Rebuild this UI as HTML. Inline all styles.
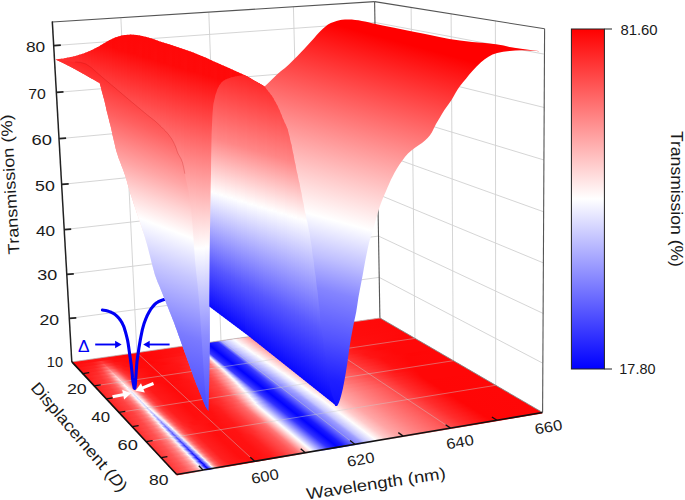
<!DOCTYPE html>
<html><head><meta charset="utf-8"><style>html,body{margin:0;padding:0;background:#fff;}svg{display:block;}text{font-family:"Liberation Sans",sans-serif;}</style></head>
<body><svg width="685" height="500" viewBox="0 0 685 500"><defs><linearGradient id="f1" gradientUnits="userSpaceOnUse" x1="0" y1="0" x2="1" y2="0" gradientTransform="matrix(308.8644 -44.1128 0.7786 0.6275 73.2335 363.3328)"><stop offset="0.0000" stop-color="#ff0b0b"/><stop offset="0.0744" stop-color="#ff1313"/><stop offset="0.0920" stop-color="#ff1414"/><stop offset="0.1551" stop-color="#ff0707"/><stop offset="0.2626" stop-color="#ff0b0b"/><stop offset="0.3482" stop-color="#ff1515"/><stop offset="0.3754" stop-color="#ff3d3d"/><stop offset="0.3889" stop-color="#ff9d9d"/><stop offset="0.3957" stop-color="#ffeded"/><stop offset="0.3991" stop-color="#e6e6ff"/><stop offset="0.4092" stop-color="#3a3aff"/><stop offset="0.4362" stop-color="#0202ff"/><stop offset="0.4698" stop-color="#3232ff"/><stop offset="0.4798" stop-color="#8b8bff"/><stop offset="0.4898" stop-color="#c1c1ff"/><stop offset="0.5232" stop-color="#fdfdff"/><stop offset="0.5498" stop-color="#ffcdcd"/><stop offset="0.5828" stop-color="#ff8b8b"/><stop offset="0.6190" stop-color="#ff5b5b"/><stop offset="0.7007" stop-color="#ff2e2e"/><stop offset="0.8168" stop-color="#ff0d0d"/><stop offset="1.0000" stop-color="#ff0909"/></linearGradient>
<linearGradient id="f2" gradientUnits="userSpaceOnUse" x1="0" y1="0" x2="1" y2="0" gradientTransform="matrix(310.4043 -44.5435 0.7786 0.6275 75.9243 366.2238)"><stop offset="0.0000" stop-color="#ff0e0e"/><stop offset="0.0568" stop-color="#ff1b1b"/><stop offset="0.0850" stop-color="#ff3838"/><stop offset="0.0991" stop-color="#ff2424"/><stop offset="0.1237" stop-color="#ff0f0f"/><stop offset="0.2212" stop-color="#ff0707"/><stop offset="0.3483" stop-color="#ff1515"/><stop offset="0.3755" stop-color="#ff3d3d"/><stop offset="0.3890" stop-color="#ff9d9d"/><stop offset="0.3958" stop-color="#ffeded"/><stop offset="0.3992" stop-color="#e6e6ff"/><stop offset="0.4093" stop-color="#3939ff"/><stop offset="0.4363" stop-color="#0101ff"/><stop offset="0.4699" stop-color="#3131ff"/><stop offset="0.4799" stop-color="#8b8bff"/><stop offset="0.4899" stop-color="#c1c1ff"/><stop offset="0.5233" stop-color="#fdfdff"/><stop offset="0.5498" stop-color="#ffcdcd"/><stop offset="0.5829" stop-color="#ff8b8b"/><stop offset="0.6191" stop-color="#ff5b5b"/><stop offset="0.7008" stop-color="#ff2e2e"/><stop offset="0.8168" stop-color="#ff0d0d"/><stop offset="1.0000" stop-color="#ff0909"/></linearGradient>
<linearGradient id="f3" gradientUnits="userSpaceOnUse" x1="0" y1="0" x2="1" y2="0" gradientTransform="matrix(311.9593 -44.9813 0.7786 0.6275 78.6472 369.1494)"><stop offset="0.0000" stop-color="#ff1212"/><stop offset="0.0533" stop-color="#ff2323"/><stop offset="0.0710" stop-color="#ff3b3b"/><stop offset="0.0851" stop-color="#ff5959"/><stop offset="0.0886" stop-color="#ff4a4a"/><stop offset="0.1167" stop-color="#ff1a1a"/><stop offset="0.1587" stop-color="#ff0a0a"/><stop offset="0.2490" stop-color="#ff0a0a"/><stop offset="0.3484" stop-color="#ff1919"/><stop offset="0.3756" stop-color="#ff4343"/><stop offset="0.3891" stop-color="#ffa2a2"/><stop offset="0.3959" stop-color="#fff1f1"/><stop offset="0.3993" stop-color="#e2e2ff"/><stop offset="0.4094" stop-color="#3a3aff"/><stop offset="0.4364" stop-color="#0101ff"/><stop offset="0.4700" stop-color="#3232ff"/><stop offset="0.4800" stop-color="#8b8bff"/><stop offset="0.4900" stop-color="#c0c0ff"/><stop offset="0.5234" stop-color="#fcfcff"/><stop offset="0.5333" stop-color="#fff0f0"/><stop offset="0.5830" stop-color="#ff8d8d"/><stop offset="0.6192" stop-color="#ff5d5d"/><stop offset="0.7041" stop-color="#ff2e2e"/><stop offset="0.8169" stop-color="#ff0d0d"/><stop offset="1.0000" stop-color="#ff0909"/></linearGradient>
<linearGradient id="f4" gradientUnits="userSpaceOnUse" x1="0" y1="0" x2="1" y2="0" gradientTransform="matrix(313.5297 -45.4262 0.7786 0.6275 81.4027 372.1100)"><stop offset="0.0000" stop-color="#ff1515"/><stop offset="0.0462" stop-color="#ff2727"/><stop offset="0.0639" stop-color="#ff3e3e"/><stop offset="0.0851" stop-color="#ff7979"/><stop offset="0.0886" stop-color="#ff6565"/><stop offset="0.1133" stop-color="#ff2727"/><stop offset="0.1378" stop-color="#ff1111"/><stop offset="0.2214" stop-color="#ff0808"/><stop offset="0.3450" stop-color="#ff2020"/><stop offset="0.3756" stop-color="#ff5050"/><stop offset="0.3892" stop-color="#ffadad"/><stop offset="0.3960" stop-color="#fff9f9"/><stop offset="0.3994" stop-color="#dcdcff"/><stop offset="0.4095" stop-color="#3a3aff"/><stop offset="0.4365" stop-color="#0202ff"/><stop offset="0.4701" stop-color="#3434ff"/><stop offset="0.4801" stop-color="#8989ff"/><stop offset="0.4901" stop-color="#bcbcff"/><stop offset="0.5268" stop-color="#fffefe"/><stop offset="0.5534" stop-color="#ffc8c8"/><stop offset="0.5831" stop-color="#ff8f8f"/><stop offset="0.6193" stop-color="#ff6060"/><stop offset="0.7042" stop-color="#ff3232"/><stop offset="0.8201" stop-color="#ff0e0e"/><stop offset="1.0000" stop-color="#ff0909"/></linearGradient>
<linearGradient id="f5" gradientUnits="userSpaceOnUse" x1="0" y1="0" x2="1" y2="0" gradientTransform="matrix(315.1156 -45.8785 0.7786 0.6275 84.1915 375.1063)"><stop offset="0.0000" stop-color="#ff1818"/><stop offset="0.0427" stop-color="#ff2c2c"/><stop offset="0.0604" stop-color="#ff4545"/><stop offset="0.0745" stop-color="#ff7070"/><stop offset="0.0851" stop-color="#ff9a9a"/><stop offset="0.0887" stop-color="#ff8080"/><stop offset="0.0957" stop-color="#ff6b6b"/><stop offset="0.1098" stop-color="#ff3838"/><stop offset="0.1273" stop-color="#ff1b1b"/><stop offset="0.1728" stop-color="#ff0b0b"/><stop offset="0.2526" stop-color="#ff0c0c"/><stop offset="0.3417" stop-color="#ff2626"/><stop offset="0.3519" stop-color="#ff3131"/><stop offset="0.3757" stop-color="#ff5d5d"/><stop offset="0.3893" stop-color="#ffb8b8"/><stop offset="0.3961" stop-color="#fdfdff"/><stop offset="0.3995" stop-color="#d5d5ff"/><stop offset="0.4096" stop-color="#3a3aff"/><stop offset="0.4366" stop-color="#0202ff"/><stop offset="0.4702" stop-color="#3636ff"/><stop offset="0.4802" stop-color="#8888ff"/><stop offset="0.4902" stop-color="#b9b9ff"/><stop offset="0.5269" stop-color="#fefeff"/><stop offset="0.5534" stop-color="#ffcaca"/><stop offset="0.5832" stop-color="#ff9292"/><stop offset="0.6227" stop-color="#ff6161"/><stop offset="0.7075" stop-color="#ff3434"/><stop offset="0.8202" stop-color="#ff0e0e"/><stop offset="1.0000" stop-color="#ff0909"/></linearGradient>
<linearGradient id="f6" gradientUnits="userSpaceOnUse" x1="0" y1="0" x2="1" y2="0" gradientTransform="matrix(316.7172 -46.3384 0.7786 0.6275 87.0142 378.1391)"><stop offset="0.0000" stop-color="#ff1b1b"/><stop offset="0.0427" stop-color="#ff3434"/><stop offset="0.0604" stop-color="#ff5151"/><stop offset="0.0710" stop-color="#ff7575"/><stop offset="0.0852" stop-color="#ffbbbb"/><stop offset="0.0887" stop-color="#ff9a9a"/><stop offset="0.0957" stop-color="#ff8181"/><stop offset="0.1063" stop-color="#ff4e4e"/><stop offset="0.1168" stop-color="#ff2f2f"/><stop offset="0.1379" stop-color="#ff1717"/><stop offset="0.2042" stop-color="#ff0909"/><stop offset="0.2939" stop-color="#ff1717"/><stop offset="0.3418" stop-color="#ff2d2d"/><stop offset="0.3554" stop-color="#ff4141"/><stop offset="0.3758" stop-color="#ff6a6a"/><stop offset="0.3894" stop-color="#ffc2c2"/><stop offset="0.3928" stop-color="#ffe6e6"/><stop offset="0.3962" stop-color="#f5f5ff"/><stop offset="0.3995" stop-color="#cfcfff"/><stop offset="0.4097" stop-color="#3b3bff"/><stop offset="0.4367" stop-color="#0202ff"/><stop offset="0.4703" stop-color="#3737ff"/><stop offset="0.4803" stop-color="#8686ff"/><stop offset="0.4903" stop-color="#b6b6ff"/><stop offset="0.5270" stop-color="#fcfcff"/><stop offset="0.5370" stop-color="#ffefef"/><stop offset="0.5800" stop-color="#ff9999"/><stop offset="0.6228" stop-color="#ff6565"/><stop offset="0.7109" stop-color="#ff3636"/><stop offset="0.8203" stop-color="#ff0f0f"/><stop offset="1.0000" stop-color="#ff0909"/></linearGradient>
<linearGradient id="f7" gradientUnits="userSpaceOnUse" x1="0" y1="0" x2="1" y2="0" gradientTransform="matrix(318.3349 -46.8059 0.7786 0.6275 89.8713 381.2089)"><stop offset="0.0000" stop-color="#ff1e1e"/><stop offset="0.0392" stop-color="#ff3535"/><stop offset="0.0569" stop-color="#ff5151"/><stop offset="0.0675" stop-color="#ff7272"/><stop offset="0.0852" stop-color="#ffd3d3"/><stop offset="0.0887" stop-color="#ffaeae"/><stop offset="0.0958" stop-color="#ff9191"/><stop offset="0.1063" stop-color="#ff5656"/><stop offset="0.1169" stop-color="#ff3434"/><stop offset="0.1379" stop-color="#ff1919"/><stop offset="0.1973" stop-color="#ff0a0a"/><stop offset="0.2803" stop-color="#ff1515"/><stop offset="0.3385" stop-color="#ff3131"/><stop offset="0.3521" stop-color="#ff4343"/><stop offset="0.3759" stop-color="#ff7676"/><stop offset="0.3895" stop-color="#ffcdcd"/><stop offset="0.3929" stop-color="#ffefef"/><stop offset="0.3963" stop-color="#ededff"/><stop offset="0.3996" stop-color="#c8c8ff"/><stop offset="0.4098" stop-color="#3b3bff"/><stop offset="0.4368" stop-color="#0202ff"/><stop offset="0.4704" stop-color="#3939ff"/><stop offset="0.4804" stop-color="#8484ff"/><stop offset="0.4904" stop-color="#b3b3ff"/><stop offset="0.5304" stop-color="#fffefe"/><stop offset="0.5801" stop-color="#ff9b9b"/><stop offset="0.6229" stop-color="#ff6868"/><stop offset="0.7109" stop-color="#ff3a3a"/><stop offset="0.8203" stop-color="#ff1010"/><stop offset="1.0000" stop-color="#ff0808"/></linearGradient>
<linearGradient id="f8" gradientUnits="userSpaceOnUse" x1="0" y1="0" x2="1" y2="0" gradientTransform="matrix(319.9687 -47.2813 0.7786 0.6275 92.7636 384.3164)"><stop offset="0.0000" stop-color="#ff1f1f"/><stop offset="0.0392" stop-color="#ff3838"/><stop offset="0.0569" stop-color="#ff5555"/><stop offset="0.0675" stop-color="#ff7979"/><stop offset="0.0782" stop-color="#ffb8b8"/><stop offset="0.0852" stop-color="#ffe2e2"/><stop offset="0.0887" stop-color="#ffbbbb"/><stop offset="0.0923" stop-color="#ffafaf"/><stop offset="0.1064" stop-color="#ff5a5a"/><stop offset="0.1169" stop-color="#ff3636"/><stop offset="0.1345" stop-color="#ff1c1c"/><stop offset="0.1834" stop-color="#ff0b0b"/><stop offset="0.2562" stop-color="#ff0f0f"/><stop offset="0.3318" stop-color="#ff3030"/><stop offset="0.3522" stop-color="#ff4c4c"/><stop offset="0.3760" stop-color="#ff8383"/><stop offset="0.3896" stop-color="#ffd8d8"/><stop offset="0.3930" stop-color="#fff8f8"/><stop offset="0.3964" stop-color="#e5e5ff"/><stop offset="0.3997" stop-color="#c2c2ff"/><stop offset="0.4099" stop-color="#3b3bff"/><stop offset="0.4369" stop-color="#0202ff"/><stop offset="0.4637" stop-color="#2d2dff"/><stop offset="0.4705" stop-color="#3b3bff"/><stop offset="0.4805" stop-color="#8383ff"/><stop offset="0.4905" stop-color="#b0b0ff"/><stop offset="0.5305" stop-color="#fefeff"/><stop offset="0.5802" stop-color="#ff9e9e"/><stop offset="0.6230" stop-color="#ff6c6c"/><stop offset="0.7143" stop-color="#ff3c3c"/><stop offset="0.8204" stop-color="#ff1010"/><stop offset="0.9719" stop-color="#ff0808"/><stop offset="1.0000" stop-color="#ff0808"/></linearGradient>
<linearGradient id="f9" gradientUnits="userSpaceOnUse" x1="0" y1="0" x2="1" y2="0" gradientTransform="matrix(321.6191 -47.7648 0.7786 0.6275 95.6917 387.4624)"><stop offset="0.0000" stop-color="#ff2020"/><stop offset="0.0392" stop-color="#ff3b3b"/><stop offset="0.0569" stop-color="#ff5959"/><stop offset="0.0676" stop-color="#ff7f7f"/><stop offset="0.0782" stop-color="#ffc3c3"/><stop offset="0.0853" stop-color="#fff1f1"/><stop offset="0.0888" stop-color="#ffc8c8"/><stop offset="0.0923" stop-color="#ffbbbb"/><stop offset="0.1064" stop-color="#ff5f5f"/><stop offset="0.1170" stop-color="#ff3838"/><stop offset="0.1345" stop-color="#ff1d1d"/><stop offset="0.1800" stop-color="#ff0c0c"/><stop offset="0.2494" stop-color="#ff0e0e"/><stop offset="0.3216" stop-color="#ff2d2d"/><stop offset="0.3455" stop-color="#ff4848"/><stop offset="0.3761" stop-color="#ff9090"/><stop offset="0.3897" stop-color="#ffe2e2"/><stop offset="0.3931" stop-color="#fcfcff"/><stop offset="0.3998" stop-color="#bbbbff"/><stop offset="0.4100" stop-color="#3c3cff"/><stop offset="0.4370" stop-color="#0202ff"/><stop offset="0.4605" stop-color="#2727ff"/><stop offset="0.4706" stop-color="#3d3dff"/><stop offset="0.4806" stop-color="#8181ff"/><stop offset="0.4906" stop-color="#acacff"/><stop offset="0.5107" stop-color="#d5d5ff"/><stop offset="0.5306" stop-color="#fcfcff"/><stop offset="0.5406" stop-color="#ffefef"/><stop offset="0.5770" stop-color="#ffa5a5"/><stop offset="0.6231" stop-color="#ff6f6f"/><stop offset="0.7176" stop-color="#ff3e3e"/><stop offset="0.8172" stop-color="#ff1111"/><stop offset="0.9312" stop-color="#ff0808"/><stop offset="1.0000" stop-color="#ff0808"/></linearGradient>
<linearGradient id="f10" gradientUnits="userSpaceOnUse" x1="0" y1="0" x2="1" y2="0" gradientTransform="matrix(323.2861 -48.2565 0.7786 0.6275 98.6562 390.6476)"><stop offset="0.0000" stop-color="#ff2222"/><stop offset="0.0392" stop-color="#ff3d3d"/><stop offset="0.0570" stop-color="#ff5d5d"/><stop offset="0.0676" stop-color="#ff8585"/><stop offset="0.0747" stop-color="#ffb2b2"/><stop offset="0.0817" stop-color="#ffeaea"/><stop offset="0.0853" stop-color="#fdfdff"/><stop offset="0.0888" stop-color="#ffd5d5"/><stop offset="0.0923" stop-color="#ffc6c6"/><stop offset="0.1065" stop-color="#ff6262"/><stop offset="0.1170" stop-color="#ff3a3a"/><stop offset="0.1346" stop-color="#ff1e1e"/><stop offset="0.1801" stop-color="#ff0c0c"/><stop offset="0.2460" stop-color="#ff0e0e"/><stop offset="0.3114" stop-color="#ff2a2a"/><stop offset="0.3388" stop-color="#ff4444"/><stop offset="0.3558" stop-color="#ff6767"/><stop offset="0.3762" stop-color="#ff9c9c"/><stop offset="0.3898" stop-color="#ffeded"/><stop offset="0.3932" stop-color="#f3f3ff"/><stop offset="0.3999" stop-color="#b5b5ff"/><stop offset="0.4101" stop-color="#3c3cff"/><stop offset="0.4371" stop-color="#0202ff"/><stop offset="0.4606" stop-color="#2828ff"/><stop offset="0.4707" stop-color="#3e3eff"/><stop offset="0.4807" stop-color="#8080ff"/><stop offset="0.4907" stop-color="#a9a9ff"/><stop offset="0.5074" stop-color="#c9c9ff"/><stop offset="0.5307" stop-color="#fafaff"/><stop offset="0.5340" stop-color="#fffdfd"/><stop offset="0.5771" stop-color="#ffa8a8"/><stop offset="0.6232" stop-color="#ff7272"/><stop offset="0.7885" stop-color="#ff1d1d"/><stop offset="0.8682" stop-color="#ff0909"/><stop offset="1.0000" stop-color="#ff0808"/></linearGradient>
<linearGradient id="f11" gradientUnits="userSpaceOnUse" x1="0" y1="0" x2="1" y2="0" gradientTransform="matrix(324.9701 -48.7567 0.7786 0.6275 101.6578 393.8726)"><stop offset="0.0000" stop-color="#ff2323"/><stop offset="0.0392" stop-color="#ff4040"/><stop offset="0.0570" stop-color="#ff6161"/><stop offset="0.0676" stop-color="#ff8b8b"/><stop offset="0.0747" stop-color="#ffbaba"/><stop offset="0.0818" stop-color="#fff7f7"/><stop offset="0.0853" stop-color="#eeeeff"/><stop offset="0.0889" stop-color="#ffe1e1"/><stop offset="0.0924" stop-color="#ffd1d1"/><stop offset="0.1030" stop-color="#ff7d7d"/><stop offset="0.1100" stop-color="#ff5454"/><stop offset="0.1206" stop-color="#ff3333"/><stop offset="0.1416" stop-color="#ff1919"/><stop offset="0.2045" stop-color="#ff0a0a"/><stop offset="0.2703" stop-color="#ff1616"/><stop offset="0.3286" stop-color="#ff3c3c"/><stop offset="0.3457" stop-color="#ff5757"/><stop offset="0.3763" stop-color="#ffa9a9"/><stop offset="0.3899" stop-color="#fff8f8"/><stop offset="0.3933" stop-color="#e9e9ff"/><stop offset="0.4000" stop-color="#aeaeff"/><stop offset="0.4102" stop-color="#3d3dff"/><stop offset="0.4372" stop-color="#0202ff"/><stop offset="0.4573" stop-color="#2121ff"/><stop offset="0.4708" stop-color="#4040ff"/><stop offset="0.4808" stop-color="#7e7eff"/><stop offset="0.4908" stop-color="#a6a6ff"/><stop offset="0.5075" stop-color="#c6c6ff"/><stop offset="0.5342" stop-color="#ffffff"/><stop offset="0.5772" stop-color="#ffaaaa"/><stop offset="0.6233" stop-color="#ff7676"/><stop offset="0.8110" stop-color="#ff1515"/><stop offset="0.8967" stop-color="#ff0808"/><stop offset="1.0000" stop-color="#ff0808"/></linearGradient>
<linearGradient id="f12" gradientUnits="userSpaceOnUse" x1="0" y1="0" x2="1" y2="0" gradientTransform="matrix(326.6713 -49.2655 0.7786 0.6275 104.6972 397.1383)"><stop offset="0.0000" stop-color="#ff2424"/><stop offset="0.0392" stop-color="#ff4242"/><stop offset="0.0570" stop-color="#ff6565"/><stop offset="0.0677" stop-color="#ff9191"/><stop offset="0.0747" stop-color="#ffc2c2"/><stop offset="0.0783" stop-color="#ffe3e3"/><stop offset="0.0818" stop-color="#fafaff"/><stop offset="0.0854" stop-color="#dfdfff"/><stop offset="0.0889" stop-color="#ffeeee"/><stop offset="0.0924" stop-color="#ffdddd"/><stop offset="0.1030" stop-color="#ff8181"/><stop offset="0.1101" stop-color="#ff5757"/><stop offset="0.1206" stop-color="#ff3434"/><stop offset="0.1417" stop-color="#ff1a1a"/><stop offset="0.2011" stop-color="#ff0b0b"/><stop offset="0.2669" stop-color="#ff1616"/><stop offset="0.3287" stop-color="#ff4141"/><stop offset="0.3424" stop-color="#ff5757"/><stop offset="0.3730" stop-color="#ffabab"/><stop offset="0.3764" stop-color="#ffb5b5"/><stop offset="0.3866" stop-color="#ffefef"/><stop offset="0.3900" stop-color="#fcfcff"/><stop offset="0.4001" stop-color="#a8a8ff"/><stop offset="0.4103" stop-color="#3d3dff"/><stop offset="0.4373" stop-color="#0202ff"/><stop offset="0.4575" stop-color="#2222ff"/><stop offset="0.4709" stop-color="#4242ff"/><stop offset="0.4843" stop-color="#8c8cff"/><stop offset="0.4943" stop-color="#a9a9ff"/><stop offset="0.5076" stop-color="#c4c4ff"/><stop offset="0.5276" stop-color="#f0f0ff"/><stop offset="0.5343" stop-color="#fdfdff"/><stop offset="0.5508" stop-color="#ffdfdf"/><stop offset="0.5806" stop-color="#ffa8a8"/><stop offset="0.6267" stop-color="#ff7777"/><stop offset="0.8142" stop-color="#ff1515"/><stop offset="0.8936" stop-color="#ff0808"/><stop offset="1.0000" stop-color="#ff0808"/></linearGradient>
<linearGradient id="f13" gradientUnits="userSpaceOnUse" x1="0" y1="0" x2="1" y2="0" gradientTransform="matrix(328.3899 -49.7832 0.7786 0.6275 107.7752 400.4453)"><stop offset="0.0000" stop-color="#ff2424"/><stop offset="0.0393" stop-color="#ff4343"/><stop offset="0.0570" stop-color="#ff6666"/><stop offset="0.0677" stop-color="#ff9191"/><stop offset="0.0748" stop-color="#ffc4c4"/><stop offset="0.0783" stop-color="#ffe5e5"/><stop offset="0.0818" stop-color="#f6f6ff"/><stop offset="0.0854" stop-color="#dadaff"/><stop offset="0.0889" stop-color="#fff2f2"/><stop offset="0.0925" stop-color="#ffe0e0"/><stop offset="0.1030" stop-color="#ff8282"/><stop offset="0.1101" stop-color="#ff5757"/><stop offset="0.1207" stop-color="#ff3434"/><stop offset="0.1418" stop-color="#ff1919"/><stop offset="0.2046" stop-color="#ff0a0a"/><stop offset="0.2670" stop-color="#ff1717"/><stop offset="0.3254" stop-color="#ff4141"/><stop offset="0.3391" stop-color="#ff5656"/><stop offset="0.3629" stop-color="#ff9898"/><stop offset="0.3765" stop-color="#ffc2c2"/><stop offset="0.3867" stop-color="#fffafa"/><stop offset="0.3901" stop-color="#f1f1ff"/><stop offset="0.4002" stop-color="#a1a1ff"/><stop offset="0.4104" stop-color="#3d3dff"/><stop offset="0.4374" stop-color="#0202ff"/><stop offset="0.4576" stop-color="#2222ff"/><stop offset="0.4710" stop-color="#4343ff"/><stop offset="0.4844" stop-color="#8a8aff"/><stop offset="0.4944" stop-color="#a5a5ff"/><stop offset="0.5077" stop-color="#c1c1ff"/><stop offset="0.5244" stop-color="#e7e7ff"/><stop offset="0.5377" stop-color="#fffdfd"/><stop offset="0.5741" stop-color="#ffb5b5"/><stop offset="0.6169" stop-color="#ff8181"/><stop offset="0.7470" stop-color="#ff3838"/><stop offset="0.8366" stop-color="#ff0f0f"/><stop offset="0.9219" stop-color="#ff0606"/><stop offset="1.0000" stop-color="#ff0808"/></linearGradient>
<linearGradient id="f14" gradientUnits="userSpaceOnUse" x1="0" y1="0" x2="1" y2="0" gradientTransform="matrix(330.1262 -50.3099 0.7786 0.6275 110.8925 403.7946)"><stop offset="0.0000" stop-color="#ff2525"/><stop offset="0.0393" stop-color="#ff4343"/><stop offset="0.0571" stop-color="#ff6666"/><stop offset="0.0677" stop-color="#ff9292"/><stop offset="0.0748" stop-color="#ffc6c6"/><stop offset="0.0783" stop-color="#ffe7e7"/><stop offset="0.0819" stop-color="#f3f3ff"/><stop offset="0.0854" stop-color="#d6d6ff"/><stop offset="0.0890" stop-color="#fff5f5"/><stop offset="0.0925" stop-color="#ffe3e3"/><stop offset="0.1031" stop-color="#ff8383"/><stop offset="0.1101" stop-color="#ff5757"/><stop offset="0.1207" stop-color="#ff3434"/><stop offset="0.1418" stop-color="#ff1a1a"/><stop offset="0.2047" stop-color="#ff0b0b"/><stop offset="0.2671" stop-color="#ff1818"/><stop offset="0.3255" stop-color="#ff4646"/><stop offset="0.3392" stop-color="#ff5d5d"/><stop offset="0.3698" stop-color="#ffb8b8"/><stop offset="0.3766" stop-color="#ffcfcf"/><stop offset="0.3834" stop-color="#fff3f3"/><stop offset="0.3868" stop-color="#f9f9ff"/><stop offset="0.3936" stop-color="#cdcdff"/><stop offset="0.4037" stop-color="#7c7cff"/><stop offset="0.4105" stop-color="#3e3eff"/><stop offset="0.4308" stop-color="#1010ff"/><stop offset="0.4375" stop-color="#0202ff"/><stop offset="0.4577" stop-color="#2222ff"/><stop offset="0.4711" stop-color="#4545ff"/><stop offset="0.4845" stop-color="#8888ff"/><stop offset="0.4945" stop-color="#a2a2ff"/><stop offset="0.5079" stop-color="#bebeff"/><stop offset="0.5212" stop-color="#dfdfff"/><stop offset="0.5378" stop-color="#ffffff"/><stop offset="0.5742" stop-color="#ffb7b7"/><stop offset="0.6170" stop-color="#ff8585"/><stop offset="0.7438" stop-color="#ff3d3d"/><stop offset="0.8335" stop-color="#ff1010"/><stop offset="0.9000" stop-color="#ff0707"/><stop offset="1.0000" stop-color="#ff0808"/></linearGradient>
<linearGradient id="f15" gradientUnits="userSpaceOnUse" x1="0" y1="0" x2="1" y2="0" gradientTransform="matrix(331.8806 -50.8459 0.7786 0.6275 114.0499 407.1870)"><stop offset="0.0000" stop-color="#ff2525"/><stop offset="0.0393" stop-color="#ff4444"/><stop offset="0.0571" stop-color="#ff6767"/><stop offset="0.0677" stop-color="#ff9393"/><stop offset="0.0748" stop-color="#ffc7c7"/><stop offset="0.0784" stop-color="#ffeaea"/><stop offset="0.0819" stop-color="#f0f0ff"/><stop offset="0.0855" stop-color="#d3d3ff"/><stop offset="0.0890" stop-color="#fff8f8"/><stop offset="0.0925" stop-color="#ffe5e5"/><stop offset="0.1031" stop-color="#ff8383"/><stop offset="0.1102" stop-color="#ff5757"/><stop offset="0.1208" stop-color="#ff3434"/><stop offset="0.1419" stop-color="#ff1a1a"/><stop offset="0.2048" stop-color="#ff0b0b"/><stop offset="0.2637" stop-color="#ff1717"/><stop offset="0.3187" stop-color="#ff4141"/><stop offset="0.3393" stop-color="#ff6363"/><stop offset="0.3733" stop-color="#ffd0d0"/><stop offset="0.3835" stop-color="#ffffff"/><stop offset="0.3937" stop-color="#c4c4ff"/><stop offset="0.4038" stop-color="#7878ff"/><stop offset="0.4106" stop-color="#3e3eff"/><stop offset="0.4241" stop-color="#1e1eff"/><stop offset="0.4376" stop-color="#0202ff"/><stop offset="0.4578" stop-color="#2323ff"/><stop offset="0.4712" stop-color="#4747ff"/><stop offset="0.4846" stop-color="#8686ff"/><stop offset="0.4946" stop-color="#9f9fff"/><stop offset="0.5080" stop-color="#bbbbff"/><stop offset="0.5213" stop-color="#ddddff"/><stop offset="0.5379" stop-color="#fefeff"/><stop offset="0.5743" stop-color="#ffb9b9"/><stop offset="0.6171" stop-color="#ff8888"/><stop offset="0.7407" stop-color="#ff4242"/><stop offset="0.8335" stop-color="#ff1111"/><stop offset="0.8937" stop-color="#ff0707"/><stop offset="1.0000" stop-color="#ff0808"/></linearGradient>
<linearGradient id="f16" gradientUnits="userSpaceOnUse" x1="0" y1="0" x2="1" y2="0" gradientTransform="matrix(333.6532 -51.3914 0.7786 0.6275 117.2480 410.6231)"><stop offset="0.0000" stop-color="#ff2525"/><stop offset="0.0393" stop-color="#ff4444"/><stop offset="0.0571" stop-color="#ff6767"/><stop offset="0.0678" stop-color="#ff9494"/><stop offset="0.0749" stop-color="#ffc9c9"/><stop offset="0.0784" stop-color="#ffecec"/><stop offset="0.0819" stop-color="#ededff"/><stop offset="0.0855" stop-color="#cfcfff"/><stop offset="0.0890" stop-color="#fffbfb"/><stop offset="0.0926" stop-color="#ffe8e8"/><stop offset="0.1032" stop-color="#ff8484"/><stop offset="0.1102" stop-color="#ff5757"/><stop offset="0.1208" stop-color="#ff3434"/><stop offset="0.1419" stop-color="#ff1a1a"/><stop offset="0.2049" stop-color="#ff0b0b"/><stop offset="0.2638" stop-color="#ff1818"/><stop offset="0.3154" stop-color="#ff4242"/><stop offset="0.3359" stop-color="#ff5f5f"/><stop offset="0.3700" stop-color="#ffcfcf"/><stop offset="0.3802" stop-color="#fff9f9"/><stop offset="0.3836" stop-color="#f4f4ff"/><stop offset="0.3938" stop-color="#bbbbff"/><stop offset="0.4073" stop-color="#5959ff"/><stop offset="0.4107" stop-color="#3f3fff"/><stop offset="0.4209" stop-color="#2525ff"/><stop offset="0.4377" stop-color="#0202ff"/><stop offset="0.4579" stop-color="#2323ff"/><stop offset="0.4713" stop-color="#4949ff"/><stop offset="0.4847" stop-color="#8484ff"/><stop offset="0.4981" stop-color="#a1a1ff"/><stop offset="0.5081" stop-color="#b8b8ff"/><stop offset="0.5181" stop-color="#d4d4ff"/><stop offset="0.5380" stop-color="#fcfcff"/><stop offset="0.5447" stop-color="#fff5f5"/><stop offset="0.5744" stop-color="#ffbcbc"/><stop offset="0.6139" stop-color="#ff8e8e"/><stop offset="0.7376" stop-color="#ff4747"/><stop offset="0.8304" stop-color="#ff1212"/><stop offset="0.8843" stop-color="#ff0707"/><stop offset="1.0000" stop-color="#ff0808"/></linearGradient>
<linearGradient id="f17" gradientUnits="userSpaceOnUse" x1="0" y1="0" x2="1" y2="0" gradientTransform="matrix(335.4443 -51.9466 0.7786 0.6275 120.4878 414.1040)"><stop offset="0.0000" stop-color="#ff2626"/><stop offset="0.0358" stop-color="#ff4141"/><stop offset="0.0536" stop-color="#ff6060"/><stop offset="0.0642" stop-color="#ff8585"/><stop offset="0.0713" stop-color="#ffb0b0"/><stop offset="0.0784" stop-color="#fff2f2"/><stop offset="0.0820" stop-color="#e5e5ff"/><stop offset="0.0855" stop-color="#c6c6ff"/><stop offset="0.0891" stop-color="#fafaff"/><stop offset="0.0926" stop-color="#ffefef"/><stop offset="0.1032" stop-color="#ff8787"/><stop offset="0.1103" stop-color="#ff5959"/><stop offset="0.1209" stop-color="#ff3535"/><stop offset="0.1385" stop-color="#ff1d1d"/><stop offset="0.1875" stop-color="#ff0d0d"/><stop offset="0.2466" stop-color="#ff1111"/><stop offset="0.2915" stop-color="#ff2d2d"/><stop offset="0.3258" stop-color="#ff5353"/><stop offset="0.3395" stop-color="#ff7070"/><stop offset="0.3769" stop-color="#fff5f5"/><stop offset="0.3803" stop-color="#f9f9ff"/><stop offset="0.3939" stop-color="#b1b1ff"/><stop offset="0.4108" stop-color="#3f3fff"/><stop offset="0.4176" stop-color="#2b2bff"/><stop offset="0.4378" stop-color="#0202ff"/><stop offset="0.4546" stop-color="#1a1aff"/><stop offset="0.4748" stop-color="#5959ff"/><stop offset="0.4882" stop-color="#8b8bff"/><stop offset="0.5049" stop-color="#aaaaff"/><stop offset="0.5182" stop-color="#d2d2ff"/><stop offset="0.5415" stop-color="#fffdfd"/><stop offset="0.5712" stop-color="#ffc3c3"/><stop offset="0.6075" stop-color="#ff9898"/><stop offset="0.6664" stop-color="#ff7272"/><stop offset="0.7344" stop-color="#ff4d4d"/><stop offset="0.8178" stop-color="#ff1717"/><stop offset="0.8780" stop-color="#ff0707"/><stop offset="1.0000" stop-color="#ff0808"/></linearGradient>
<linearGradient id="f18" gradientUnits="userSpaceOnUse" x1="0" y1="0" x2="1" y2="0" gradientTransform="matrix(337.2542 -52.5119 0.7786 0.6275 123.7700 417.6305)"><stop offset="0.0000" stop-color="#ff2727"/><stop offset="0.0358" stop-color="#ff4444"/><stop offset="0.0536" stop-color="#ff6464"/><stop offset="0.0643" stop-color="#ff8b8b"/><stop offset="0.0714" stop-color="#ffb7b7"/><stop offset="0.0785" stop-color="#fffdfd"/><stop offset="0.0856" stop-color="#b6b6ff"/><stop offset="0.0891" stop-color="#ededff"/><stop offset="0.0926" stop-color="#fffbfb"/><stop offset="0.1033" stop-color="#ff8c8c"/><stop offset="0.1103" stop-color="#ff5c5c"/><stop offset="0.1209" stop-color="#ff3737"/><stop offset="0.1385" stop-color="#ff1e1e"/><stop offset="0.1876" stop-color="#ff0d0d"/><stop offset="0.2467" stop-color="#ff1212"/><stop offset="0.2916" stop-color="#ff3030"/><stop offset="0.3259" stop-color="#ff5757"/><stop offset="0.3361" stop-color="#ff6a6a"/><stop offset="0.3770" stop-color="#fdfdff"/><stop offset="0.3940" stop-color="#a8a8ff"/><stop offset="0.4109" stop-color="#3f3fff"/><stop offset="0.4177" stop-color="#2b2bff"/><stop offset="0.4379" stop-color="#0303ff"/><stop offset="0.4548" stop-color="#1a1aff"/><stop offset="0.4749" stop-color="#5959ff"/><stop offset="0.4883" stop-color="#8989ff"/><stop offset="0.5050" stop-color="#a6a6ff"/><stop offset="0.5183" stop-color="#d0d0ff"/><stop offset="0.5416" stop-color="#ffffff"/><stop offset="0.5714" stop-color="#ffc5c5"/><stop offset="0.6043" stop-color="#ff9e9e"/><stop offset="0.6600" stop-color="#ff7979"/><stop offset="0.7313" stop-color="#ff5252"/><stop offset="0.8019" stop-color="#ff2121"/><stop offset="0.8717" stop-color="#ff0707"/><stop offset="1.0000" stop-color="#ff0707"/></linearGradient>
<linearGradient id="f19" gradientUnits="userSpaceOnUse" x1="0" y1="0" x2="1" y2="0" gradientTransform="matrix(339.0832 -53.0873 0.7786 0.6275 127.0955 421.2035)"><stop offset="0.0000" stop-color="#ff2929"/><stop offset="0.0358" stop-color="#ff4646"/><stop offset="0.0536" stop-color="#ff6868"/><stop offset="0.0643" stop-color="#ff9090"/><stop offset="0.0714" stop-color="#ffbfbf"/><stop offset="0.0750" stop-color="#ffe0e0"/><stop offset="0.0785" stop-color="#f5f5ff"/><stop offset="0.0856" stop-color="#a6a6ff"/><stop offset="0.0891" stop-color="#e0e0ff"/><stop offset="0.0927" stop-color="#f7f7ff"/><stop offset="0.0962" stop-color="#ffdfdf"/><stop offset="0.1033" stop-color="#ff9292"/><stop offset="0.1104" stop-color="#ff6060"/><stop offset="0.1210" stop-color="#ff3939"/><stop offset="0.1386" stop-color="#ff1e1e"/><stop offset="0.1842" stop-color="#ff0e0e"/><stop offset="0.2364" stop-color="#ff1010"/><stop offset="0.2675" stop-color="#ff1d1d"/><stop offset="0.3123" stop-color="#ff4848"/><stop offset="0.3328" stop-color="#ff6969"/><stop offset="0.3431" stop-color="#ff8989"/><stop offset="0.3738" stop-color="#fefeff"/><stop offset="0.3975" stop-color="#8d8dff"/><stop offset="0.4111" stop-color="#4040ff"/><stop offset="0.4178" stop-color="#2b2bff"/><stop offset="0.4381" stop-color="#0303ff"/><stop offset="0.4549" stop-color="#1a1aff"/><stop offset="0.4884" stop-color="#8686ff"/><stop offset="0.5051" stop-color="#a3a3ff"/><stop offset="0.5184" stop-color="#cdcdff"/><stop offset="0.5417" stop-color="#fdfdff"/><stop offset="0.5748" stop-color="#ffc3c3"/><stop offset="0.6077" stop-color="#ff9e9e"/><stop offset="0.6698" stop-color="#ff7878"/><stop offset="0.7314" stop-color="#ff5555"/><stop offset="0.7956" stop-color="#ff2727"/><stop offset="0.8655" stop-color="#ff0707"/><stop offset="1.0000" stop-color="#ff0707"/></linearGradient>
<linearGradient id="f20" gradientUnits="userSpaceOnUse" x1="0" y1="0" x2="1" y2="0" gradientTransform="matrix(340.9316 -53.6733 0.7786 0.6275 130.4651 424.8239)"><stop offset="0.0000" stop-color="#ff2a2a"/><stop offset="0.0358" stop-color="#ff4949"/><stop offset="0.0536" stop-color="#ff6d6d"/><stop offset="0.0643" stop-color="#ff9696"/><stop offset="0.0714" stop-color="#ffc8c8"/><stop offset="0.0750" stop-color="#ffebeb"/><stop offset="0.0785" stop-color="#e9e9ff"/><stop offset="0.0856" stop-color="#9494ff"/><stop offset="0.0892" stop-color="#d1d1ff"/><stop offset="0.0927" stop-color="#eaeaff"/><stop offset="0.0963" stop-color="#ffeaea"/><stop offset="0.1033" stop-color="#ff9898"/><stop offset="0.1104" stop-color="#ff6363"/><stop offset="0.1210" stop-color="#ff3b3b"/><stop offset="0.1386" stop-color="#ff1f1f"/><stop offset="0.1842" stop-color="#ff0e0e"/><stop offset="0.2365" stop-color="#ff1010"/><stop offset="0.2676" stop-color="#ff1e1e"/><stop offset="0.3055" stop-color="#ff4444"/><stop offset="0.3261" stop-color="#ff6060"/><stop offset="0.3364" stop-color="#ff7575"/><stop offset="0.3705" stop-color="#fffdfd"/><stop offset="0.3942" stop-color="#9595ff"/><stop offset="0.4145" stop-color="#3232ff"/><stop offset="0.4382" stop-color="#0303ff"/><stop offset="0.4550" stop-color="#1a1aff"/><stop offset="0.4885" stop-color="#8383ff"/><stop offset="0.5052" stop-color="#a0a0ff"/><stop offset="0.5152" stop-color="#c4c4ff"/><stop offset="0.5418" stop-color="#fbfbff"/><stop offset="0.5451" stop-color="#fffcfc"/><stop offset="0.5716" stop-color="#ffcaca"/><stop offset="0.6045" stop-color="#ffa4a4"/><stop offset="0.6634" stop-color="#ff7e7e"/><stop offset="0.7315" stop-color="#ff5858"/><stop offset="0.7893" stop-color="#ff2c2c"/><stop offset="0.8624" stop-color="#ff0707"/><stop offset="1.0000" stop-color="#ff0707"/></linearGradient>
<linearGradient id="f21" gradientUnits="userSpaceOnUse" x1="0" y1="0" x2="1" y2="0" gradientTransform="matrix(342.7996 -54.2699 0.7786 0.6275 133.8797 428.4927)"><stop offset="0.0000" stop-color="#ff2c2c"/><stop offset="0.0358" stop-color="#ff4c4c"/><stop offset="0.0537" stop-color="#ff7171"/><stop offset="0.0644" stop-color="#ff9d9d"/><stop offset="0.0715" stop-color="#ffd0d0"/><stop offset="0.0750" stop-color="#fff5f5"/><stop offset="0.0786" stop-color="#dcdcff"/><stop offset="0.0821" stop-color="#ababff"/><stop offset="0.0857" stop-color="#8383ff"/><stop offset="0.0892" stop-color="#c2c2ff"/><stop offset="0.0928" stop-color="#ddddff"/><stop offset="0.0963" stop-color="#fff5f5"/><stop offset="0.1034" stop-color="#ff9e9e"/><stop offset="0.1105" stop-color="#ff6767"/><stop offset="0.1211" stop-color="#ff3c3c"/><stop offset="0.1387" stop-color="#ff2020"/><stop offset="0.1808" stop-color="#ff0f0f"/><stop offset="0.2331" stop-color="#ff1010"/><stop offset="0.2643" stop-color="#ff1c1c"/><stop offset="0.2987" stop-color="#ff3d3d"/><stop offset="0.3262" stop-color="#ff6262"/><stop offset="0.3365" stop-color="#ff7878"/><stop offset="0.3672" stop-color="#fff5f5"/><stop offset="0.3706" stop-color="#fbfbff"/><stop offset="0.4147" stop-color="#3232ff"/><stop offset="0.4383" stop-color="#0303ff"/><stop offset="0.4551" stop-color="#1a1aff"/><stop offset="0.4886" stop-color="#8282ff"/><stop offset="0.5053" stop-color="#9e9eff"/><stop offset="0.5153" stop-color="#c3c3ff"/><stop offset="0.5452" stop-color="#fffdfd"/><stop offset="0.5717" stop-color="#ffcbcb"/><stop offset="0.6046" stop-color="#ffa6a6"/><stop offset="0.6635" stop-color="#ff8080"/><stop offset="0.7316" stop-color="#ff5a5a"/><stop offset="0.7893" stop-color="#ff2d2d"/><stop offset="0.8624" stop-color="#ff0606"/><stop offset="1.0000" stop-color="#ff0707"/></linearGradient>
<linearGradient id="f22" gradientUnits="userSpaceOnUse" x1="0" y1="0" x2="1" y2="0" gradientTransform="matrix(344.6877 -54.8776 0.7786 0.6275 137.3403 432.2108)"><stop offset="0.0000" stop-color="#ff2d2d"/><stop offset="0.0358" stop-color="#ff4f4f"/><stop offset="0.0537" stop-color="#ff7575"/><stop offset="0.0644" stop-color="#ffa3a3"/><stop offset="0.0715" stop-color="#ffd8d8"/><stop offset="0.0751" stop-color="#ffffff"/><stop offset="0.0822" stop-color="#9c9cff"/><stop offset="0.0857" stop-color="#7171ff"/><stop offset="0.0893" stop-color="#b4b4ff"/><stop offset="0.0928" stop-color="#d0d0ff"/><stop offset="0.0963" stop-color="#ffffff"/><stop offset="0.1034" stop-color="#ffa4a4"/><stop offset="0.1105" stop-color="#ff6a6a"/><stop offset="0.1176" stop-color="#ff4949"/><stop offset="0.1317" stop-color="#ff2929"/><stop offset="0.1598" stop-color="#ff1414"/><stop offset="0.2227" stop-color="#ff0e0e"/><stop offset="0.2609" stop-color="#ff1a1a"/><stop offset="0.2954" stop-color="#ff3939"/><stop offset="0.3263" stop-color="#ff6262"/><stop offset="0.3366" stop-color="#ff7878"/><stop offset="0.3673" stop-color="#fff5f5"/><stop offset="0.3707" stop-color="#fbfbff"/><stop offset="0.4148" stop-color="#3232ff"/><stop offset="0.4384" stop-color="#0303ff"/><stop offset="0.4552" stop-color="#1a1aff"/><stop offset="0.4888" stop-color="#8282ff"/><stop offset="0.5054" stop-color="#9e9eff"/><stop offset="0.5154" stop-color="#c3c3ff"/><stop offset="0.5454" stop-color="#fffdfd"/><stop offset="0.5718" stop-color="#ffcbcb"/><stop offset="0.6048" stop-color="#ffa6a6"/><stop offset="0.6636" stop-color="#ff8080"/><stop offset="0.7317" stop-color="#ff5a5a"/><stop offset="0.7894" stop-color="#ff2d2d"/><stop offset="0.8625" stop-color="#ff0606"/><stop offset="1.0000" stop-color="#ff0707"/></linearGradient>
<linearGradient id="f23" gradientUnits="userSpaceOnUse" x1="0" y1="0" x2="1" y2="0" gradientTransform="matrix(346.5960 -55.4966 0.7786 0.6275 140.8477 435.9793)"><stop offset="0.0000" stop-color="#ff2f2f"/><stop offset="0.0359" stop-color="#ff5252"/><stop offset="0.0537" stop-color="#ff7979"/><stop offset="0.0644" stop-color="#ffa8a8"/><stop offset="0.0715" stop-color="#ffdfdf"/><stop offset="0.0751" stop-color="#f7f7ff"/><stop offset="0.0822" stop-color="#8f8fff"/><stop offset="0.0857" stop-color="#6262ff"/><stop offset="0.0893" stop-color="#a7a7ff"/><stop offset="0.0928" stop-color="#c5c5ff"/><stop offset="0.0964" stop-color="#f6f6ff"/><stop offset="0.0999" stop-color="#ffd4d4"/><stop offset="0.1035" stop-color="#ffa8a8"/><stop offset="0.1070" stop-color="#ff8787"/><stop offset="0.1141" stop-color="#ff5a5a"/><stop offset="0.1247" stop-color="#ff3737"/><stop offset="0.1458" stop-color="#ff1c1c"/><stop offset="0.2054" stop-color="#ff0c0c"/><stop offset="0.2610" stop-color="#ff1a1a"/><stop offset="0.2955" stop-color="#ff3939"/><stop offset="0.3264" stop-color="#ff6262"/><stop offset="0.3367" stop-color="#ff7878"/><stop offset="0.3674" stop-color="#fff5f5"/><stop offset="0.3708" stop-color="#fbfbff"/><stop offset="0.4149" stop-color="#3232ff"/><stop offset="0.4385" stop-color="#0303ff"/><stop offset="0.4554" stop-color="#1a1aff"/><stop offset="0.4889" stop-color="#8282ff"/><stop offset="0.5056" stop-color="#9e9eff"/><stop offset="0.5156" stop-color="#c3c3ff"/><stop offset="0.5455" stop-color="#fffdfd"/><stop offset="0.5719" stop-color="#ffcbcb"/><stop offset="0.6049" stop-color="#ffa6a6"/><stop offset="0.6637" stop-color="#ff8080"/><stop offset="0.7318" stop-color="#ff5a5a"/><stop offset="0.7895" stop-color="#ff2d2d"/><stop offset="0.8625" stop-color="#ff0606"/><stop offset="1.0000" stop-color="#ff0707"/></linearGradient>
<linearGradient id="f24" gradientUnits="userSpaceOnUse" x1="0" y1="0" x2="1" y2="0" gradientTransform="matrix(348.5250 -56.1272 0.7786 0.6275 144.4030 439.7992)"><stop offset="0.0000" stop-color="#ff3030"/><stop offset="0.0359" stop-color="#ff5454"/><stop offset="0.0537" stop-color="#ff7c7c"/><stop offset="0.0644" stop-color="#ffabab"/><stop offset="0.0716" stop-color="#ffe4e4"/><stop offset="0.0751" stop-color="#f1f1ff"/><stop offset="0.0822" stop-color="#8585ff"/><stop offset="0.0858" stop-color="#5656ff"/><stop offset="0.0893" stop-color="#9d9dff"/><stop offset="0.0929" stop-color="#bcbcff"/><stop offset="0.0964" stop-color="#f0f0ff"/><stop offset="0.1000" stop-color="#ffd9d9"/><stop offset="0.1035" stop-color="#ffacac"/><stop offset="0.1071" stop-color="#ff8989"/><stop offset="0.1141" stop-color="#ff5b5b"/><stop offset="0.1247" stop-color="#ff3737"/><stop offset="0.1459" stop-color="#ff1c1c"/><stop offset="0.2055" stop-color="#ff0c0c"/><stop offset="0.2611" stop-color="#ff1a1a"/><stop offset="0.2956" stop-color="#ff3939"/><stop offset="0.3265" stop-color="#ff6262"/><stop offset="0.3368" stop-color="#ff7878"/><stop offset="0.3675" stop-color="#fff5f5"/><stop offset="0.3709" stop-color="#fbfbff"/><stop offset="0.4150" stop-color="#3232ff"/><stop offset="0.4386" stop-color="#0303ff"/><stop offset="0.4555" stop-color="#1a1aff"/><stop offset="0.4890" stop-color="#8282ff"/><stop offset="0.5057" stop-color="#9e9eff"/><stop offset="0.5157" stop-color="#c3c3ff"/><stop offset="0.5456" stop-color="#fffdfd"/><stop offset="0.5721" stop-color="#ffcbcb"/><stop offset="0.6050" stop-color="#ffa6a6"/><stop offset="0.6639" stop-color="#ff8080"/><stop offset="0.7319" stop-color="#ff5a5a"/><stop offset="0.7896" stop-color="#ff2d2d"/><stop offset="0.8626" stop-color="#ff0606"/><stop offset="1.0000" stop-color="#ff0707"/></linearGradient>
<linearGradient id="f25" gradientUnits="userSpaceOnUse" x1="0" y1="0" x2="1" y2="0" gradientTransform="matrix(350.4749 -56.7697 0.7786 0.6275 148.0070 443.6715)"><stop offset="0.0000" stop-color="#ff3131"/><stop offset="0.0359" stop-color="#ff5555"/><stop offset="0.0538" stop-color="#ff7e7e"/><stop offset="0.0645" stop-color="#ffafaf"/><stop offset="0.0716" stop-color="#ffe9e9"/><stop offset="0.0752" stop-color="#eaeaff"/><stop offset="0.0858" stop-color="#4949ff"/><stop offset="0.0894" stop-color="#9292ff"/><stop offset="0.0929" stop-color="#b3b3ff"/><stop offset="0.0965" stop-color="#e9e9ff"/><stop offset="0.1000" stop-color="#ffdede"/><stop offset="0.1036" stop-color="#ffafaf"/><stop offset="0.1071" stop-color="#ff8b8b"/><stop offset="0.1142" stop-color="#ff5c5c"/><stop offset="0.1248" stop-color="#ff3838"/><stop offset="0.1424" stop-color="#ff1f1f"/><stop offset="0.1916" stop-color="#ff0e0e"/><stop offset="0.2473" stop-color="#ff1313"/><stop offset="0.2888" stop-color="#ff3131"/><stop offset="0.3266" stop-color="#ff6262"/><stop offset="0.3369" stop-color="#ff7878"/><stop offset="0.3676" stop-color="#fff5f5"/><stop offset="0.3710" stop-color="#fbfbff"/><stop offset="0.4151" stop-color="#3232ff"/><stop offset="0.4388" stop-color="#0303ff"/><stop offset="0.4556" stop-color="#1a1aff"/><stop offset="0.4891" stop-color="#8282ff"/><stop offset="0.5058" stop-color="#9e9eff"/><stop offset="0.5158" stop-color="#c3c3ff"/><stop offset="0.5457" stop-color="#fffdfd"/><stop offset="0.5722" stop-color="#ffcbcb"/><stop offset="0.6051" stop-color="#ffa6a6"/><stop offset="0.6640" stop-color="#ff8080"/><stop offset="0.7320" stop-color="#ff5a5a"/><stop offset="0.7897" stop-color="#ff2d2d"/><stop offset="0.8627" stop-color="#ff0606"/><stop offset="1.0000" stop-color="#ff0707"/></linearGradient>
<linearGradient id="f26" gradientUnits="userSpaceOnUse" x1="0" y1="0" x2="1" y2="0" gradientTransform="matrix(352.4460 -57.4244 0.7786 0.6275 151.6609 447.5973)"><stop offset="0.0000" stop-color="#ff3232"/><stop offset="0.0323" stop-color="#ff5252"/><stop offset="0.0502" stop-color="#ff7676"/><stop offset="0.0609" stop-color="#ff9e9e"/><stop offset="0.0681" stop-color="#ffcdcd"/><stop offset="0.0716" stop-color="#ffeeee"/><stop offset="0.0752" stop-color="#e4e4ff"/><stop offset="0.0859" stop-color="#3d3dff"/><stop offset="0.0894" stop-color="#8888ff"/><stop offset="0.0930" stop-color="#aaaaff"/><stop offset="0.0965" stop-color="#e2e2ff"/><stop offset="0.1001" stop-color="#ffe2e2"/><stop offset="0.1036" stop-color="#ffb2b2"/><stop offset="0.1072" stop-color="#ff8e8e"/><stop offset="0.1142" stop-color="#ff5e5e"/><stop offset="0.1249" stop-color="#ff3939"/><stop offset="0.1425" stop-color="#ff1f1f"/><stop offset="0.1917" stop-color="#ff0e0e"/><stop offset="0.2474" stop-color="#ff1313"/><stop offset="0.2889" stop-color="#ff3131"/><stop offset="0.3267" stop-color="#ff6262"/><stop offset="0.3370" stop-color="#ff7878"/><stop offset="0.3677" stop-color="#fff5f5"/><stop offset="0.3712" stop-color="#fbfbff"/><stop offset="0.4153" stop-color="#3232ff"/><stop offset="0.4389" stop-color="#0303ff"/><stop offset="0.4557" stop-color="#1a1aff"/><stop offset="0.4893" stop-color="#8282ff"/><stop offset="0.5059" stop-color="#9e9eff"/><stop offset="0.5159" stop-color="#c3c3ff"/><stop offset="0.5458" stop-color="#fffdfd"/><stop offset="0.5723" stop-color="#ffcbcb"/><stop offset="0.6052" stop-color="#ffa6a6"/><stop offset="0.6641" stop-color="#ff8080"/><stop offset="0.7321" stop-color="#ff5a5a"/><stop offset="0.7898" stop-color="#ff2d2d"/><stop offset="0.8627" stop-color="#ff0606"/><stop offset="1.0000" stop-color="#ff0707"/></linearGradient>
<linearGradient id="f27" gradientUnits="userSpaceOnUse" x1="0" y1="0" x2="1" y2="0" gradientTransform="matrix(354.4387 -58.0915 0.7786 0.6275 155.3656 451.5777)"><stop offset="0.0000" stop-color="#ff3333"/><stop offset="0.0323" stop-color="#ff5353"/><stop offset="0.0502" stop-color="#ff7878"/><stop offset="0.0610" stop-color="#ffa1a1"/><stop offset="0.0681" stop-color="#ffd1d1"/><stop offset="0.0717" stop-color="#fff3f3"/><stop offset="0.0752" stop-color="#dedeff"/><stop offset="0.0859" stop-color="#3131ff"/><stop offset="0.0895" stop-color="#7e7eff"/><stop offset="0.0930" stop-color="#a1a1ff"/><stop offset="0.0966" stop-color="#dcdcff"/><stop offset="0.1001" stop-color="#ffe7e7"/><stop offset="0.1037" stop-color="#ffb5b5"/><stop offset="0.1072" stop-color="#ff9090"/><stop offset="0.1143" stop-color="#ff5f5f"/><stop offset="0.1249" stop-color="#ff3939"/><stop offset="0.1426" stop-color="#ff2020"/><stop offset="0.1882" stop-color="#ff0f0f"/><stop offset="0.2406" stop-color="#ff1212"/><stop offset="0.2718" stop-color="#ff2121"/><stop offset="0.3200" stop-color="#ff5656"/><stop offset="0.3371" stop-color="#ff7878"/><stop offset="0.3679" stop-color="#fff5f5"/><stop offset="0.3713" stop-color="#fbfbff"/><stop offset="0.4154" stop-color="#3232ff"/><stop offset="0.4390" stop-color="#0303ff"/><stop offset="0.4559" stop-color="#1a1aff"/><stop offset="0.4894" stop-color="#8282ff"/><stop offset="0.5061" stop-color="#9e9eff"/><stop offset="0.5161" stop-color="#c3c3ff"/><stop offset="0.5460" stop-color="#fffdfd"/><stop offset="0.5724" stop-color="#ffcbcb"/><stop offset="0.6054" stop-color="#ffa6a6"/><stop offset="0.6642" stop-color="#ff8080"/><stop offset="0.7322" stop-color="#ff5a5a"/><stop offset="0.7898" stop-color="#ff2d2d"/><stop offset="0.8628" stop-color="#ff0606"/><stop offset="1.0000" stop-color="#ff0707"/></linearGradient>
<linearGradient id="f28" gradientUnits="userSpaceOnUse" x1="0" y1="0" x2="1" y2="0" gradientTransform="matrix(356.4534 -58.7716 0.7786 0.6275 159.1223 455.6140)"><stop offset="0.0000" stop-color="#ff3434"/><stop offset="0.0324" stop-color="#ff5555"/><stop offset="0.0503" stop-color="#ff7b7b"/><stop offset="0.0610" stop-color="#ffa5a5"/><stop offset="0.0681" stop-color="#ffd5d5"/><stop offset="0.0717" stop-color="#fff8f8"/><stop offset="0.0753" stop-color="#d8d8ff"/><stop offset="0.0859" stop-color="#2525ff"/><stop offset="0.0895" stop-color="#7373ff"/><stop offset="0.0931" stop-color="#9898ff"/><stop offset="0.0966" stop-color="#d5d5ff"/><stop offset="0.1002" stop-color="#ffebeb"/><stop offset="0.1037" stop-color="#ffb8b8"/><stop offset="0.1073" stop-color="#ff9292"/><stop offset="0.1143" stop-color="#ff6060"/><stop offset="0.1250" stop-color="#ff3a3a"/><stop offset="0.1426" stop-color="#ff2020"/><stop offset="0.1883" stop-color="#ff0f0f"/><stop offset="0.2407" stop-color="#ff1212"/><stop offset="0.2719" stop-color="#ff2121"/><stop offset="0.3201" stop-color="#ff5656"/><stop offset="0.3372" stop-color="#ff7878"/><stop offset="0.3680" stop-color="#fff5f5"/><stop offset="0.3714" stop-color="#fbfbff"/><stop offset="0.4155" stop-color="#3232ff"/><stop offset="0.4392" stop-color="#0303ff"/><stop offset="0.4560" stop-color="#1a1aff"/><stop offset="0.4895" stop-color="#8282ff"/><stop offset="0.5062" stop-color="#9e9eff"/><stop offset="0.5162" stop-color="#c3c3ff"/><stop offset="0.5461" stop-color="#fffdfd"/><stop offset="0.5726" stop-color="#ffcbcb"/><stop offset="0.6055" stop-color="#ffa6a6"/><stop offset="0.6643" stop-color="#ff8080"/><stop offset="0.7323" stop-color="#ff5a5a"/><stop offset="0.7899" stop-color="#ff2d2d"/><stop offset="0.8628" stop-color="#ff0606"/><stop offset="1.0000" stop-color="#ff0707"/></linearGradient>
<linearGradient id="f29" gradientUnits="userSpaceOnUse" x1="0" y1="0" x2="1" y2="0" gradientTransform="matrix(358.4903 -59.4648 0.7786 0.6275 162.9319 459.7072)"><stop offset="0.0000" stop-color="#ff3535"/><stop offset="0.0324" stop-color="#ff5757"/><stop offset="0.0503" stop-color="#ff7d7d"/><stop offset="0.0610" stop-color="#ffa8a8"/><stop offset="0.0682" stop-color="#ffd9d9"/><stop offset="0.0717" stop-color="#fffdfd"/><stop offset="0.0753" stop-color="#d2d2ff"/><stop offset="0.0789" stop-color="#9797ff"/><stop offset="0.0824" stop-color="#5353ff"/><stop offset="0.0860" stop-color="#1818ff"/><stop offset="0.0895" stop-color="#6868ff"/><stop offset="0.0931" stop-color="#8f8fff"/><stop offset="0.0967" stop-color="#cfcfff"/><stop offset="0.1002" stop-color="#ffefef"/><stop offset="0.1038" stop-color="#ffbbbb"/><stop offset="0.1073" stop-color="#ff9494"/><stop offset="0.1144" stop-color="#ff6161"/><stop offset="0.1250" stop-color="#ff3a3a"/><stop offset="0.1427" stop-color="#ff2020"/><stop offset="0.1884" stop-color="#ff0f0f"/><stop offset="0.2408" stop-color="#ff1212"/><stop offset="0.2720" stop-color="#ff2121"/><stop offset="0.3202" stop-color="#ff5656"/><stop offset="0.3374" stop-color="#ff7878"/><stop offset="0.3681" stop-color="#fff5f5"/><stop offset="0.3715" stop-color="#fbfbff"/><stop offset="0.4156" stop-color="#3232ff"/><stop offset="0.4393" stop-color="#0303ff"/><stop offset="0.4561" stop-color="#1a1aff"/><stop offset="0.4896" stop-color="#8282ff"/><stop offset="0.5063" stop-color="#9e9eff"/><stop offset="0.5163" stop-color="#c3c3ff"/><stop offset="0.5462" stop-color="#fffdfd"/><stop offset="0.5727" stop-color="#ffcbcb"/><stop offset="0.6056" stop-color="#ffa6a6"/><stop offset="0.6644" stop-color="#ff8080"/><stop offset="0.7324" stop-color="#ff5a5a"/><stop offset="0.7900" stop-color="#ff2d2d"/><stop offset="0.8629" stop-color="#ff0606"/><stop offset="1.0000" stop-color="#ff0707"/></linearGradient>
<linearGradient id="f30" gradientUnits="userSpaceOnUse" x1="0" y1="0" x2="1" y2="0" gradientTransform="matrix(360.5498 -60.1715 0.7786 0.6275 166.7958 463.8586)"><stop offset="0.0000" stop-color="#ff3636"/><stop offset="0.0324" stop-color="#ff5959"/><stop offset="0.0503" stop-color="#ff8080"/><stop offset="0.0611" stop-color="#ffabab"/><stop offset="0.0682" stop-color="#ffdddd"/><stop offset="0.0718" stop-color="#fcfcff"/><stop offset="0.0753" stop-color="#ccccff"/><stop offset="0.0789" stop-color="#8f8fff"/><stop offset="0.0825" stop-color="#4848ff"/><stop offset="0.0860" stop-color="#0b0bff"/><stop offset="0.0896" stop-color="#5d5dff"/><stop offset="0.0931" stop-color="#8686ff"/><stop offset="0.0967" stop-color="#c8c8ff"/><stop offset="0.1003" stop-color="#fff4f4"/><stop offset="0.1038" stop-color="#ffbebe"/><stop offset="0.1074" stop-color="#ff9696"/><stop offset="0.1145" stop-color="#ff6262"/><stop offset="0.1251" stop-color="#ff3b3b"/><stop offset="0.1428" stop-color="#ff2020"/><stop offset="0.1885" stop-color="#ff0f0f"/><stop offset="0.2409" stop-color="#ff1212"/><stop offset="0.2721" stop-color="#ff2121"/><stop offset="0.3203" stop-color="#ff5656"/><stop offset="0.3375" stop-color="#ff7878"/><stop offset="0.3682" stop-color="#fff5f5"/><stop offset="0.3716" stop-color="#fbfbff"/><stop offset="0.4158" stop-color="#3232ff"/><stop offset="0.4394" stop-color="#0303ff"/><stop offset="0.4562" stop-color="#1a1aff"/><stop offset="0.4898" stop-color="#8282ff"/><stop offset="0.5065" stop-color="#9e9eff"/><stop offset="0.5165" stop-color="#c3c3ff"/><stop offset="0.5464" stop-color="#fffdfd"/><stop offset="0.5728" stop-color="#ffcbcb"/><stop offset="0.6057" stop-color="#ffa6a6"/><stop offset="0.6646" stop-color="#ff8080"/><stop offset="0.7325" stop-color="#ff5a5a"/><stop offset="0.7901" stop-color="#ff2d2d"/><stop offset="0.8630" stop-color="#ff0606"/><stop offset="1.0000" stop-color="#ff0707"/></linearGradient>
<linearGradient id="f31" gradientUnits="userSpaceOnUse" x1="0" y1="0" x2="1" y2="0" gradientTransform="matrix(362.6323 -60.8921 0.7786 0.6275 170.7149 468.0695)"><stop offset="0.0000" stop-color="#ff3737"/><stop offset="0.0324" stop-color="#ff5a5a"/><stop offset="0.0503" stop-color="#ff8282"/><stop offset="0.0611" stop-color="#ffaeae"/><stop offset="0.0682" stop-color="#ffe1e1"/><stop offset="0.0718" stop-color="#f8f8ff"/><stop offset="0.0754" stop-color="#c6c6ff"/><stop offset="0.0789" stop-color="#8787ff"/><stop offset="0.0825" stop-color="#3e3eff"/><stop offset="0.0861" stop-color="#0000ff"/><stop offset="0.0896" stop-color="#5252ff"/><stop offset="0.0932" stop-color="#7c7cff"/><stop offset="0.0968" stop-color="#c2c2ff"/><stop offset="0.1003" stop-color="#fff8f8"/><stop offset="0.1039" stop-color="#ffc1c1"/><stop offset="0.1074" stop-color="#ff9898"/><stop offset="0.1145" stop-color="#ff6363"/><stop offset="0.1251" stop-color="#ff3c3c"/><stop offset="0.1428" stop-color="#ff2020"/><stop offset="0.1886" stop-color="#ff0f0f"/><stop offset="0.2410" stop-color="#ff1212"/><stop offset="0.2722" stop-color="#ff2121"/><stop offset="0.3205" stop-color="#ff5656"/><stop offset="0.3376" stop-color="#ff7878"/><stop offset="0.3684" stop-color="#fff5f5"/><stop offset="0.3718" stop-color="#fbfbff"/><stop offset="0.4159" stop-color="#3232ff"/><stop offset="0.4396" stop-color="#0303ff"/><stop offset="0.4564" stop-color="#1a1aff"/><stop offset="0.4899" stop-color="#8282ff"/><stop offset="0.5066" stop-color="#9e9eff"/><stop offset="0.5166" stop-color="#c3c3ff"/><stop offset="0.5465" stop-color="#fffdfd"/><stop offset="0.5730" stop-color="#ffcbcb"/><stop offset="0.6059" stop-color="#ffa6a6"/><stop offset="0.6647" stop-color="#ff8080"/><stop offset="0.7326" stop-color="#ff5a5a"/><stop offset="0.7902" stop-color="#ff2d2d"/><stop offset="0.8630" stop-color="#ff0606"/><stop offset="1.0000" stop-color="#ff0707"/></linearGradient>
<linearGradient id="f32" gradientUnits="userSpaceOnUse" x1="0" y1="0" x2="1" y2="0" gradientTransform="matrix(364.7382 -61.6271 0.7786 0.6275 174.6906 472.3410)"><stop offset="0.0000" stop-color="#ff3838"/><stop offset="0.0324" stop-color="#ff5c5c"/><stop offset="0.0504" stop-color="#ff8585"/><stop offset="0.0611" stop-color="#ffb1b1"/><stop offset="0.0683" stop-color="#ffe5e5"/><stop offset="0.0718" stop-color="#f3f3ff"/><stop offset="0.0754" stop-color="#c0c0ff"/><stop offset="0.0790" stop-color="#7f7fff"/><stop offset="0.0826" stop-color="#3434ff"/><stop offset="0.0861" stop-color="#0000ff"/><stop offset="0.0897" stop-color="#4747ff"/><stop offset="0.0932" stop-color="#7373ff"/><stop offset="0.1004" stop-color="#fffdfd"/><stop offset="0.1039" stop-color="#ffc4c4"/><stop offset="0.1075" stop-color="#ff9a9a"/><stop offset="0.1110" stop-color="#ff7b7b"/><stop offset="0.1181" stop-color="#ff5353"/><stop offset="0.1287" stop-color="#ff3434"/><stop offset="0.1500" stop-color="#ff1b1b"/><stop offset="0.2132" stop-color="#ff0c0c"/><stop offset="0.2619" stop-color="#ff1a1a"/><stop offset="0.2965" stop-color="#ff3939"/><stop offset="0.3274" stop-color="#ff6262"/><stop offset="0.3377" stop-color="#ff7878"/><stop offset="0.3685" stop-color="#fff5f5"/><stop offset="0.3719" stop-color="#fbfbff"/><stop offset="0.4160" stop-color="#3232ff"/><stop offset="0.4397" stop-color="#0303ff"/><stop offset="0.4565" stop-color="#1a1aff"/><stop offset="0.4901" stop-color="#8282ff"/><stop offset="0.5067" stop-color="#9e9eff"/><stop offset="0.5167" stop-color="#c3c3ff"/><stop offset="0.5466" stop-color="#fffdfd"/><stop offset="0.5731" stop-color="#ffcbcb"/><stop offset="0.6060" stop-color="#ffa6a6"/><stop offset="0.6648" stop-color="#ff8080"/><stop offset="0.7327" stop-color="#ff5a5a"/><stop offset="0.7903" stop-color="#ff2d2d"/><stop offset="0.8631" stop-color="#ff0606"/><stop offset="1.0000" stop-color="#ff0707"/></linearGradient>
<linearGradient id="s33" gradientUnits="userSpaceOnUse" x1="394.1" y1="21.6" x2="292.2" y2="399.1"><stop offset="0.0000" stop-color="#ff0000"/><stop offset="0.0469" stop-color="#ff0000"/><stop offset="0.2840" stop-color="#ff7d7d"/><stop offset="0.4321" stop-color="#ffcccc"/><stop offset="0.5309" stop-color="#ffffff"/><stop offset="0.6296" stop-color="#bfbfff"/><stop offset="0.7086" stop-color="#8585ff"/><stop offset="0.8272" stop-color="#5252ff"/><stop offset="0.9259" stop-color="#1f1fff"/><stop offset="1.0000" stop-color="#0d0dff"/></linearGradient>
<clipPath id="cl1"><polygon points="55.4,59.4 58.7,59 63.4,58.4 68,57.6 72.1,56.7 76.2,55.7 80,54.6 83.4,53.5 86.5,52.3 89.6,51 92.9,49.5 96.1,47.8 99.2,46.2 101.9,44.6 104.5,43 107,41.5 109.7,40.1 112.4,38.8 115,37.6 117.5,36.7 119.9,35.9 122.5,35.3 125.2,34.9 128.1,34.7 131,34.6 133.9,34.7 136.9,35 140,35.5 143.3,36.2 146.6,37 150,38 153.3,39.1 156.7,40.3 160,41.5 163.3,42.5 166.6,43.5 170,44.6 173.6,45.8 177.3,47 181,48.2 184.7,49.4 188.3,50.7 192,52 195.7,53.4 199.3,54.9 203,56.5 206.7,58.1 210.3,59.8 214,61.5 217.7,63.1 221.4,64.7 225,66.3 228.4,67.8 231.7,69.3 235,70.8 238.3,72.3 241.7,73.7 245,75.3 248.4,77.1 251.7,79.1 255,81 258.6,83.1 262.1,85.1 264.5,86.5 262,120 240,200 212,290 209.9,306 209.9,342 209.3,380 208.4,410.8 207.5,409.8 205.8,407 203.1,400.7 200,393 196.9,385.5 194,378 191.5,371 189,364 186.4,356.9 183.8,349.7 181.1,342.3 178.5,335 175.9,327.8 173.4,321 171.1,315.2 169,310 167,305.1 165,300 162.6,293.9 160,287.5 157.5,281.7 155,275 152.5,265.9 150,256 147.6,246.8 145,237.5 141.8,227.7 138.5,218 135.3,208.6 132.5,200 130.3,193.1 128.5,187 126.8,180.9 125,175 122.8,169 120.5,163 118.5,157.8 116.3,151 113.5,139.2 110.8,127 108.7,118.8 107,112 105.4,105.1 104,99 102.7,94.4 101.6,90.6 100.7,86.5 99.8,83.4 99.3,82.7 98,82.2 94.3,80.1 89.6,77.4 85,74.8 80,72 74.2,68.7 68,65.4 61,62 55.4,59.4"/></clipPath>
<linearGradient id="c34" gradientUnits="userSpaceOnUse" x1="0" y1="34" x2="0" y2="411"><stop offset="0.000" stop-color="#ff0f0f"/><stop offset="0.286" stop-color="#ffaaaa"/><stop offset="0.501" stop-color="#ffdcdc"/><stop offset="0.569" stop-color="#fefeff"/><stop offset="0.800" stop-color="#8d8dff"/><stop offset="0.999" stop-color="#4d4dff"/></linearGradient>
<linearGradient id="c35" gradientUnits="userSpaceOnUse" x1="0" y1="34" x2="0" y2="411"><stop offset="0.000" stop-color="#ff0e0e"/><stop offset="0.290" stop-color="#ffaaaa"/><stop offset="0.501" stop-color="#ffdcdc"/><stop offset="0.569" stop-color="#fefeff"/><stop offset="0.800" stop-color="#8d8dff"/><stop offset="0.999" stop-color="#4d4dff"/></linearGradient>
<linearGradient id="c36" gradientUnits="userSpaceOnUse" x1="0" y1="34" x2="0" y2="411"><stop offset="0.000" stop-color="#ff0c0c"/><stop offset="0.290" stop-color="#ffa8a8"/><stop offset="0.501" stop-color="#ffdcdc"/><stop offset="0.569" stop-color="#fefeff"/><stop offset="0.800" stop-color="#8d8dff"/><stop offset="0.999" stop-color="#4d4dff"/></linearGradient>
<linearGradient id="c37" gradientUnits="userSpaceOnUse" x1="0" y1="34" x2="0" y2="411"><stop offset="0.000" stop-color="#ff0b0b"/><stop offset="0.290" stop-color="#ffa7a7"/><stop offset="0.501" stop-color="#ffdcdc"/><stop offset="0.569" stop-color="#fefeff"/><stop offset="0.800" stop-color="#8d8dff"/><stop offset="0.999" stop-color="#4d4dff"/></linearGradient>
<linearGradient id="c38" gradientUnits="userSpaceOnUse" x1="0" y1="34" x2="0" y2="411"><stop offset="0.000" stop-color="#ff0909"/><stop offset="0.290" stop-color="#ffa6a6"/><stop offset="0.501" stop-color="#ffdcdc"/><stop offset="0.569" stop-color="#fefeff"/><stop offset="0.800" stop-color="#8d8dff"/><stop offset="0.999" stop-color="#4d4dff"/></linearGradient>
<linearGradient id="c39" gradientUnits="userSpaceOnUse" x1="0" y1="34" x2="0" y2="411"><stop offset="0.000" stop-color="#ff0808"/><stop offset="0.290" stop-color="#ffa5a5"/><stop offset="0.501" stop-color="#ffdcdc"/><stop offset="0.569" stop-color="#fefeff"/><stop offset="0.800" stop-color="#8d8dff"/><stop offset="0.999" stop-color="#4d4dff"/></linearGradient>
<linearGradient id="c40" gradientUnits="userSpaceOnUse" x1="0" y1="34" x2="0" y2="411"><stop offset="0.000" stop-color="#ff0808"/><stop offset="0.290" stop-color="#ffa4a4"/><stop offset="0.505" stop-color="#ffdede"/><stop offset="0.569" stop-color="#fefeff"/><stop offset="0.800" stop-color="#8d8dff"/><stop offset="0.999" stop-color="#4d4dff"/></linearGradient>
<linearGradient id="c41" gradientUnits="userSpaceOnUse" x1="0" y1="34" x2="0" y2="411"><stop offset="0.000" stop-color="#ff0808"/><stop offset="0.271" stop-color="#ff9a9a"/><stop offset="0.386" stop-color="#ffbcbc"/><stop offset="0.505" stop-color="#ffdede"/><stop offset="0.569" stop-color="#fefeff"/><stop offset="0.800" stop-color="#8d8dff"/><stop offset="0.999" stop-color="#4d4dff"/></linearGradient>
<linearGradient id="c42" gradientUnits="userSpaceOnUse" x1="0" y1="34" x2="0" y2="411"><stop offset="0.000" stop-color="#ff0808"/><stop offset="0.040" stop-color="#ff1b1b"/><stop offset="0.290" stop-color="#ffa1a1"/><stop offset="0.505" stop-color="#ffdede"/><stop offset="0.569" stop-color="#fefeff"/><stop offset="0.800" stop-color="#8d8dff"/><stop offset="0.999" stop-color="#4d4dff"/></linearGradient>
<linearGradient id="c43" gradientUnits="userSpaceOnUse" x1="0" y1="34" x2="0" y2="411"><stop offset="0.000" stop-color="#ff0808"/><stop offset="0.024" stop-color="#ff1010"/><stop offset="0.294" stop-color="#ffa1a1"/><stop offset="0.505" stop-color="#ffdede"/><stop offset="0.569" stop-color="#fefeff"/><stop offset="0.800" stop-color="#8d8dff"/><stop offset="0.999" stop-color="#4d4dff"/></linearGradient>
<linearGradient id="c44" gradientUnits="userSpaceOnUse" x1="0" y1="34" x2="0" y2="411"><stop offset="0.000" stop-color="#ff0808"/><stop offset="0.020" stop-color="#ff0d0d"/><stop offset="0.294" stop-color="#ffa0a0"/><stop offset="0.505" stop-color="#ffdede"/><stop offset="0.569" stop-color="#fefeff"/><stop offset="0.800" stop-color="#8d8dff"/><stop offset="0.999" stop-color="#4d4dff"/></linearGradient>
<linearGradient id="c45" gradientUnits="userSpaceOnUse" x1="0" y1="34" x2="0" y2="411"><stop offset="0.000" stop-color="#ff0808"/><stop offset="0.024" stop-color="#ff0e0e"/><stop offset="0.294" stop-color="#ff9f9f"/><stop offset="0.505" stop-color="#ffdede"/><stop offset="0.569" stop-color="#fefeff"/><stop offset="0.800" stop-color="#8d8dff"/><stop offset="0.999" stop-color="#4d4dff"/></linearGradient>
<linearGradient id="c46" gradientUnits="userSpaceOnUse" x1="0" y1="34" x2="0" y2="411"><stop offset="0.000" stop-color="#ff0808"/><stop offset="0.020" stop-color="#ff0a0a"/><stop offset="0.294" stop-color="#ff9d9d"/><stop offset="0.505" stop-color="#ffdede"/><stop offset="0.569" stop-color="#fefeff"/><stop offset="0.800" stop-color="#8d8dff"/><stop offset="0.999" stop-color="#4d4dff"/></linearGradient>
<linearGradient id="c47" gradientUnits="userSpaceOnUse" x1="0" y1="34" x2="0" y2="411"><stop offset="0.000" stop-color="#ff0808"/><stop offset="0.024" stop-color="#ff0b0b"/><stop offset="0.294" stop-color="#ff9c9c"/><stop offset="0.505" stop-color="#ffdede"/><stop offset="0.569" stop-color="#fefeff"/><stop offset="0.800" stop-color="#8d8dff"/><stop offset="0.999" stop-color="#4d4dff"/></linearGradient>
<linearGradient id="c48" gradientUnits="userSpaceOnUse" x1="0" y1="34" x2="0" y2="411"><stop offset="0.000" stop-color="#ff0808"/><stop offset="0.028" stop-color="#ff0c0c"/><stop offset="0.294" stop-color="#ff9b9b"/><stop offset="0.505" stop-color="#ffdede"/><stop offset="0.569" stop-color="#fefeff"/><stop offset="0.800" stop-color="#8d8dff"/><stop offset="0.999" stop-color="#4d4dff"/></linearGradient>
<linearGradient id="c49" gradientUnits="userSpaceOnUse" x1="0" y1="34" x2="0" y2="411"><stop offset="0.000" stop-color="#ff0808"/><stop offset="0.028" stop-color="#ff0a0a"/><stop offset="0.294" stop-color="#ff9999"/><stop offset="0.505" stop-color="#ffdede"/><stop offset="0.569" stop-color="#fefeff"/><stop offset="0.800" stop-color="#8d8dff"/><stop offset="0.999" stop-color="#4d4dff"/></linearGradient>
<linearGradient id="c50" gradientUnits="userSpaceOnUse" x1="0" y1="34" x2="0" y2="411"><stop offset="0.000" stop-color="#ff0808"/><stop offset="0.032" stop-color="#ff0b0b"/><stop offset="0.294" stop-color="#ff9898"/><stop offset="0.509" stop-color="#ffe0e0"/><stop offset="0.569" stop-color="#fefeff"/><stop offset="0.800" stop-color="#8d8dff"/><stop offset="0.999" stop-color="#4d4dff"/></linearGradient>
<linearGradient id="c51" gradientUnits="userSpaceOnUse" x1="0" y1="34" x2="0" y2="411"><stop offset="0.000" stop-color="#ff0808"/><stop offset="0.032" stop-color="#ff0a0a"/><stop offset="0.298" stop-color="#ff9898"/><stop offset="0.509" stop-color="#ffe0e0"/><stop offset="0.569" stop-color="#fefeff"/><stop offset="0.800" stop-color="#8d8dff"/><stop offset="0.999" stop-color="#4d4dff"/></linearGradient>
<linearGradient id="c52" gradientUnits="userSpaceOnUse" x1="0" y1="34" x2="0" y2="411"><stop offset="0.000" stop-color="#ff0808"/><stop offset="0.036" stop-color="#ff0b0b"/><stop offset="0.298" stop-color="#ff9797"/><stop offset="0.509" stop-color="#ffe0e0"/><stop offset="0.569" stop-color="#fefeff"/><stop offset="0.800" stop-color="#8d8dff"/><stop offset="0.999" stop-color="#4d4dff"/></linearGradient>
<linearGradient id="c53" gradientUnits="userSpaceOnUse" x1="0" y1="34" x2="0" y2="411"><stop offset="0.000" stop-color="#ff0808"/><stop offset="0.036" stop-color="#ff0909"/><stop offset="0.298" stop-color="#ff9696"/><stop offset="0.509" stop-color="#ffe0e0"/><stop offset="0.569" stop-color="#fefeff"/><stop offset="0.800" stop-color="#8d8dff"/><stop offset="0.999" stop-color="#4d4dff"/></linearGradient>
<linearGradient id="c54" gradientUnits="userSpaceOnUse" x1="0" y1="34" x2="0" y2="411"><stop offset="0.000" stop-color="#ff0808"/><stop offset="0.040" stop-color="#ff0a0a"/><stop offset="0.298" stop-color="#ff9494"/><stop offset="0.509" stop-color="#ffe0e0"/><stop offset="0.569" stop-color="#fefeff"/><stop offset="0.800" stop-color="#8d8dff"/><stop offset="0.999" stop-color="#4d4dff"/></linearGradient>
<linearGradient id="c55" gradientUnits="userSpaceOnUse" x1="0" y1="34" x2="0" y2="411"><stop offset="0.000" stop-color="#ff0808"/><stop offset="0.044" stop-color="#ff0b0b"/><stop offset="0.298" stop-color="#ff9393"/><stop offset="0.509" stop-color="#ffe0e0"/><stop offset="0.569" stop-color="#fefeff"/><stop offset="0.800" stop-color="#8d8dff"/><stop offset="0.999" stop-color="#4d4dff"/></linearGradient>
<linearGradient id="c56" gradientUnits="userSpaceOnUse" x1="0" y1="34" x2="0" y2="411"><stop offset="0.000" stop-color="#ff0808"/><stop offset="0.044" stop-color="#ff0a0a"/><stop offset="0.302" stop-color="#ff9393"/><stop offset="0.513" stop-color="#ffe3e3"/><stop offset="0.569" stop-color="#fefeff"/><stop offset="0.800" stop-color="#8d8dff"/><stop offset="0.999" stop-color="#4d4dff"/></linearGradient>
<linearGradient id="c57" gradientUnits="userSpaceOnUse" x1="0" y1="34" x2="0" y2="411"><stop offset="0.000" stop-color="#ff0808"/><stop offset="0.048" stop-color="#ff0b0b"/><stop offset="0.302" stop-color="#ff9292"/><stop offset="0.513" stop-color="#ffe3e3"/><stop offset="0.569" stop-color="#fefeff"/><stop offset="0.800" stop-color="#8d8dff"/><stop offset="0.999" stop-color="#4d4dff"/></linearGradient>
<linearGradient id="c58" gradientUnits="userSpaceOnUse" x1="0" y1="34" x2="0" y2="411"><stop offset="0.000" stop-color="#ff0808"/><stop offset="0.048" stop-color="#ff0909"/><stop offset="0.302" stop-color="#ff9191"/><stop offset="0.513" stop-color="#ffe3e3"/><stop offset="0.569" stop-color="#fefeff"/><stop offset="0.800" stop-color="#8d8dff"/><stop offset="0.999" stop-color="#4d4dff"/></linearGradient>
<linearGradient id="c59" gradientUnits="userSpaceOnUse" x1="0" y1="34" x2="0" y2="411"><stop offset="0.000" stop-color="#ff0808"/><stop offset="0.052" stop-color="#ff0a0a"/><stop offset="0.306" stop-color="#ff9191"/><stop offset="0.513" stop-color="#ffe3e3"/><stop offset="0.569" stop-color="#fefeff"/><stop offset="0.800" stop-color="#8d8dff"/><stop offset="0.999" stop-color="#4d4dff"/></linearGradient>
<linearGradient id="c60" gradientUnits="userSpaceOnUse" x1="0" y1="34" x2="0" y2="411"><stop offset="0.000" stop-color="#ff0808"/><stop offset="0.052" stop-color="#ff0909"/><stop offset="0.306" stop-color="#ff9090"/><stop offset="0.517" stop-color="#ffe5e5"/><stop offset="0.569" stop-color="#fefeff"/><stop offset="0.800" stop-color="#8d8dff"/><stop offset="0.999" stop-color="#4d4dff"/></linearGradient>
<linearGradient id="c61" gradientUnits="userSpaceOnUse" x1="0" y1="34" x2="0" y2="411"><stop offset="0.000" stop-color="#ff0808"/><stop offset="0.056" stop-color="#ff0a0a"/><stop offset="0.310" stop-color="#ff9191"/><stop offset="0.517" stop-color="#ffe5e5"/><stop offset="0.569" stop-color="#fefeff"/><stop offset="0.800" stop-color="#8d8dff"/><stop offset="0.999" stop-color="#4d4dff"/></linearGradient>
<linearGradient id="c62" gradientUnits="userSpaceOnUse" x1="0" y1="34" x2="0" y2="411"><stop offset="0.000" stop-color="#ff0808"/><stop offset="0.060" stop-color="#ff0b0b"/><stop offset="0.310" stop-color="#ff8f8f"/><stop offset="0.517" stop-color="#ffe5e5"/><stop offset="0.569" stop-color="#fefeff"/><stop offset="0.800" stop-color="#8d8dff"/><stop offset="0.999" stop-color="#4d4dff"/></linearGradient>
<linearGradient id="c63" gradientUnits="userSpaceOnUse" x1="0" y1="34" x2="0" y2="411"><stop offset="0.000" stop-color="#ff0808"/><stop offset="0.060" stop-color="#ff0909"/><stop offset="0.310" stop-color="#ff8e8e"/><stop offset="0.521" stop-color="#ffe7e7"/><stop offset="0.569" stop-color="#fefeff"/><stop offset="0.800" stop-color="#8d8dff"/><stop offset="0.999" stop-color="#4d4dff"/></linearGradient>
<linearGradient id="c64" gradientUnits="userSpaceOnUse" x1="0" y1="34" x2="0" y2="411"><stop offset="0.000" stop-color="#ff0808"/><stop offset="0.064" stop-color="#ff0a0a"/><stop offset="0.314" stop-color="#ff8f8f"/><stop offset="0.521" stop-color="#ffe7e7"/><stop offset="0.569" stop-color="#fefeff"/><stop offset="0.800" stop-color="#8d8dff"/><stop offset="0.999" stop-color="#4d4dff"/></linearGradient>
<linearGradient id="c65" gradientUnits="userSpaceOnUse" x1="0" y1="34" x2="0" y2="411"><stop offset="0.000" stop-color="#ff0808"/><stop offset="0.064" stop-color="#ff0909"/><stop offset="0.310" stop-color="#ff8c8c"/><stop offset="0.525" stop-color="#ffe9e9"/><stop offset="0.569" stop-color="#fefeff"/><stop offset="0.800" stop-color="#8d8dff"/><stop offset="0.999" stop-color="#4d4dff"/></linearGradient>
<linearGradient id="c66" gradientUnits="userSpaceOnUse" x1="0" y1="34" x2="0" y2="411"><stop offset="0.000" stop-color="#ff0808"/><stop offset="0.068" stop-color="#ff0a0a"/><stop offset="0.314" stop-color="#ff8c8c"/><stop offset="0.529" stop-color="#ffebeb"/><stop offset="0.569" stop-color="#fefeff"/><stop offset="0.800" stop-color="#8d8dff"/><stop offset="0.999" stop-color="#4d4dff"/></linearGradient>
<linearGradient id="c67" gradientUnits="userSpaceOnUse" x1="0" y1="34" x2="0" y2="411"><stop offset="0.000" stop-color="#ff0808"/><stop offset="0.072" stop-color="#ff0b0b"/><stop offset="0.322" stop-color="#ff8f8f"/><stop offset="0.529" stop-color="#ffebeb"/><stop offset="0.569" stop-color="#fefeff"/><stop offset="0.800" stop-color="#8d8dff"/><stop offset="0.999" stop-color="#4d4dff"/></linearGradient>
<linearGradient id="c68" gradientUnits="userSpaceOnUse" x1="0" y1="34" x2="0" y2="411"><stop offset="0.000" stop-color="#ff0808"/><stop offset="0.072" stop-color="#ff0909"/><stop offset="0.318" stop-color="#ff8c8c"/><stop offset="0.533" stop-color="#ffeded"/><stop offset="0.569" stop-color="#fefeff"/><stop offset="0.800" stop-color="#8d8dff"/><stop offset="0.999" stop-color="#4d4dff"/></linearGradient>
<linearGradient id="c69" gradientUnits="userSpaceOnUse" x1="0" y1="34" x2="0" y2="411"><stop offset="0.000" stop-color="#ff0808"/><stop offset="0.076" stop-color="#ff0a0a"/><stop offset="0.326" stop-color="#ff8f8f"/><stop offset="0.537" stop-color="#ffefef"/><stop offset="0.569" stop-color="#fefeff"/><stop offset="0.800" stop-color="#8d8dff"/><stop offset="0.999" stop-color="#4d4dff"/></linearGradient>
<linearGradient id="c70" gradientUnits="userSpaceOnUse" x1="0" y1="34" x2="0" y2="411"><stop offset="0.000" stop-color="#ff0808"/><stop offset="0.076" stop-color="#ff0909"/><stop offset="0.322" stop-color="#ff8c8c"/><stop offset="0.541" stop-color="#fff1f1"/><stop offset="0.569" stop-color="#fefeff"/><stop offset="0.800" stop-color="#8d8dff"/><stop offset="0.999" stop-color="#4d4dff"/></linearGradient>
<linearGradient id="c71" gradientUnits="userSpaceOnUse" x1="0" y1="34" x2="0" y2="411"><stop offset="0.000" stop-color="#ff0808"/><stop offset="0.080" stop-color="#ff0a0a"/><stop offset="0.330" stop-color="#ff8e8e"/><stop offset="0.549" stop-color="#fff5f5"/><stop offset="0.569" stop-color="#fefeff"/><stop offset="0.800" stop-color="#8d8dff"/><stop offset="0.999" stop-color="#4d4dff"/></linearGradient>
<linearGradient id="c72" gradientUnits="userSpaceOnUse" x1="0" y1="34" x2="0" y2="411"><stop offset="0.000" stop-color="#ff0808"/><stop offset="0.084" stop-color="#ff0b0b"/><stop offset="0.346" stop-color="#ff9595"/><stop offset="0.553" stop-color="#fff7f7"/><stop offset="0.569" stop-color="#fefeff"/><stop offset="0.800" stop-color="#8d8dff"/><stop offset="0.999" stop-color="#4d4dff"/></linearGradient>
<linearGradient id="c73" gradientUnits="userSpaceOnUse" x1="0" y1="34" x2="0" y2="411"><stop offset="0.000" stop-color="#ff0808"/><stop offset="0.084" stop-color="#ff0909"/><stop offset="0.338" stop-color="#ff9090"/><stop offset="0.569" stop-color="#fefeff"/><stop offset="0.800" stop-color="#8d8dff"/><stop offset="0.999" stop-color="#4d4dff"/></linearGradient>
<linearGradient id="c74" gradientUnits="userSpaceOnUse" x1="0" y1="34" x2="0" y2="411"><stop offset="0.000" stop-color="#ff0808"/><stop offset="0.088" stop-color="#ff0a0a"/><stop offset="0.366" stop-color="#ff9d9d"/><stop offset="0.569" stop-color="#fefeff"/><stop offset="0.800" stop-color="#8d8dff"/><stop offset="0.999" stop-color="#4d4dff"/></linearGradient>
<linearGradient id="c75" gradientUnits="userSpaceOnUse" x1="0" y1="34" x2="0" y2="411"><stop offset="0.000" stop-color="#ff0808"/><stop offset="0.088" stop-color="#ff0909"/><stop offset="0.366" stop-color="#ff9d9d"/><stop offset="0.569" stop-color="#fefeff"/><stop offset="0.800" stop-color="#8d8dff"/><stop offset="0.999" stop-color="#4d4dff"/></linearGradient>
<linearGradient id="c76" gradientUnits="userSpaceOnUse" x1="0" y1="34" x2="0" y2="411"><stop offset="0.000" stop-color="#ff0808"/><stop offset="0.092" stop-color="#ff0a0a"/><stop offset="0.386" stop-color="#ffa6a6"/><stop offset="0.569" stop-color="#fefeff"/><stop offset="0.800" stop-color="#8d8dff"/><stop offset="0.999" stop-color="#4d4dff"/></linearGradient>
<linearGradient id="c77" gradientUnits="userSpaceOnUse" x1="0" y1="34" x2="0" y2="411"><stop offset="0.000" stop-color="#ff0808"/><stop offset="0.095" stop-color="#ff0b0b"/><stop offset="0.406" stop-color="#ffaeae"/><stop offset="0.569" stop-color="#fefeff"/><stop offset="0.800" stop-color="#8d8dff"/><stop offset="0.999" stop-color="#4d4dff"/></linearGradient>
<linearGradient id="c78" gradientUnits="userSpaceOnUse" x1="0" y1="34" x2="0" y2="411"><stop offset="0.000" stop-color="#ff0808"/><stop offset="0.095" stop-color="#ff0909"/><stop offset="0.410" stop-color="#ffb0b0"/><stop offset="0.569" stop-color="#fefeff"/><stop offset="0.800" stop-color="#8d8dff"/><stop offset="0.999" stop-color="#4d4dff"/></linearGradient>
<linearGradient id="c79" gradientUnits="userSpaceOnUse" x1="0" y1="34" x2="0" y2="411"><stop offset="0.000" stop-color="#ff0808"/><stop offset="0.099" stop-color="#ff0a0a"/><stop offset="0.438" stop-color="#ffbdbd"/><stop offset="0.569" stop-color="#fefeff"/><stop offset="0.800" stop-color="#8d8dff"/><stop offset="0.999" stop-color="#4d4dff"/></linearGradient>
<linearGradient id="c80" gradientUnits="userSpaceOnUse" x1="0" y1="34" x2="0" y2="411"><stop offset="0.000" stop-color="#ff0808"/><stop offset="0.099" stop-color="#ff0909"/><stop offset="0.450" stop-color="#ffc3c3"/><stop offset="0.569" stop-color="#fefeff"/><stop offset="0.800" stop-color="#8d8dff"/><stop offset="0.999" stop-color="#4d4dff"/></linearGradient>
<linearGradient id="c81" gradientUnits="userSpaceOnUse" x1="0" y1="34" x2="0" y2="411"><stop offset="0.000" stop-color="#ff0808"/><stop offset="0.103" stop-color="#ff0a0a"/><stop offset="0.485" stop-color="#ffd4d4"/><stop offset="0.569" stop-color="#fefeff"/><stop offset="0.800" stop-color="#8d8dff"/><stop offset="0.999" stop-color="#4d4dff"/></linearGradient>
<linearGradient id="c82" gradientUnits="userSpaceOnUse" x1="0" y1="34" x2="0" y2="411"><stop offset="0.000" stop-color="#ff0808"/><stop offset="0.107" stop-color="#ff0b0b"/><stop offset="0.533" stop-color="#ffeded"/><stop offset="0.569" stop-color="#fefeff"/><stop offset="0.800" stop-color="#8d8dff"/><stop offset="0.999" stop-color="#4d4dff"/></linearGradient>
<linearGradient id="c83" gradientUnits="userSpaceOnUse" x1="0" y1="34" x2="0" y2="411"><stop offset="0.000" stop-color="#ff0808"/><stop offset="0.107" stop-color="#ff0909"/><stop offset="0.553" stop-color="#fff7f7"/><stop offset="0.569" stop-color="#fefeff"/><stop offset="0.800" stop-color="#8d8dff"/><stop offset="0.999" stop-color="#4d4dff"/></linearGradient>
<linearGradient id="c84" gradientUnits="userSpaceOnUse" x1="0" y1="34" x2="0" y2="411"><stop offset="0.000" stop-color="#ff0808"/><stop offset="0.111" stop-color="#ff0a0a"/><stop offset="0.565" stop-color="#fffefe"/><stop offset="0.800" stop-color="#8d8dff"/><stop offset="0.999" stop-color="#4d4dff"/></linearGradient>
<linearGradient id="c85" gradientUnits="userSpaceOnUse" x1="0" y1="34" x2="0" y2="411"><stop offset="0.000" stop-color="#ff0808"/><stop offset="0.111" stop-color="#ff0909"/><stop offset="0.565" stop-color="#fffefe"/><stop offset="0.800" stop-color="#8d8dff"/><stop offset="0.999" stop-color="#4d4dff"/></linearGradient>
<linearGradient id="c86" gradientUnits="userSpaceOnUse" x1="0" y1="34" x2="0" y2="411"><stop offset="0.000" stop-color="#ff0808"/><stop offset="0.115" stop-color="#ff0a0a"/><stop offset="0.565" stop-color="#fffefe"/><stop offset="0.800" stop-color="#8d8dff"/><stop offset="0.999" stop-color="#4d4dff"/></linearGradient>
<linearGradient id="c87" gradientUnits="userSpaceOnUse" x1="0" y1="34" x2="0" y2="411"><stop offset="0.000" stop-color="#ff0808"/><stop offset="0.119" stop-color="#ff0b0b"/><stop offset="0.374" stop-color="#ff9797"/><stop offset="0.569" stop-color="#fefeff"/><stop offset="0.800" stop-color="#8d8dff"/><stop offset="0.999" stop-color="#4d4dff"/></linearGradient>
<linearGradient id="c88" gradientUnits="userSpaceOnUse" x1="0" y1="34" x2="0" y2="411"><stop offset="0.000" stop-color="#ff0808"/><stop offset="0.119" stop-color="#ff0909"/><stop offset="0.370" stop-color="#ff9494"/><stop offset="0.569" stop-color="#fefeff"/><stop offset="0.800" stop-color="#8d8dff"/><stop offset="0.999" stop-color="#4d4dff"/></linearGradient>
<linearGradient id="c89" gradientUnits="userSpaceOnUse" x1="0" y1="34" x2="0" y2="411"><stop offset="0.000" stop-color="#ff0808"/><stop offset="0.123" stop-color="#ff0a0a"/><stop offset="0.362" stop-color="#ff8f8f"/><stop offset="0.569" stop-color="#fefeff"/><stop offset="0.800" stop-color="#8d8dff"/><stop offset="0.999" stop-color="#4d4dff"/></linearGradient>
<linearGradient id="c90" gradientUnits="userSpaceOnUse" x1="0" y1="34" x2="0" y2="411"><stop offset="0.000" stop-color="#ff0808"/><stop offset="0.123" stop-color="#ff0909"/><stop offset="0.358" stop-color="#ff8b8b"/><stop offset="0.565" stop-color="#fffefe"/><stop offset="0.800" stop-color="#8d8dff"/><stop offset="0.999" stop-color="#4d4dff"/></linearGradient>
<linearGradient id="c91" gradientUnits="userSpaceOnUse" x1="0" y1="34" x2="0" y2="411"><stop offset="0.000" stop-color="#ff0808"/><stop offset="0.127" stop-color="#ff0a0a"/><stop offset="0.354" stop-color="#ff8888"/><stop offset="0.565" stop-color="#fffefe"/><stop offset="0.800" stop-color="#8d8dff"/><stop offset="0.999" stop-color="#4d4dff"/></linearGradient>
<linearGradient id="c92" gradientUnits="userSpaceOnUse" x1="0" y1="34" x2="0" y2="411"><stop offset="0.000" stop-color="#ff0808"/><stop offset="0.131" stop-color="#ff0b0b"/><stop offset="0.354" stop-color="#ff8787"/><stop offset="0.565" stop-color="#fffefe"/><stop offset="0.800" stop-color="#8d8dff"/><stop offset="0.999" stop-color="#4d4dff"/></linearGradient>
<linearGradient id="c93" gradientUnits="userSpaceOnUse" x1="0" y1="34" x2="0" y2="411"><stop offset="0.000" stop-color="#ff0808"/><stop offset="0.131" stop-color="#ff0909"/><stop offset="0.350" stop-color="#ff8484"/><stop offset="0.557" stop-color="#fff9f9"/><stop offset="0.573" stop-color="#fcfcff"/><stop offset="0.800" stop-color="#8d8dff"/><stop offset="0.999" stop-color="#4d4dff"/></linearGradient>
<linearGradient id="c94" gradientUnits="userSpaceOnUse" x1="0" y1="34" x2="0" y2="411"><stop offset="0.000" stop-color="#ff0808"/><stop offset="0.135" stop-color="#ff0a0a"/><stop offset="0.350" stop-color="#ff8383"/><stop offset="0.549" stop-color="#fff5f5"/><stop offset="0.569" stop-color="#fefeff"/><stop offset="0.800" stop-color="#8d8dff"/><stop offset="0.999" stop-color="#4d4dff"/></linearGradient>
<linearGradient id="c95" gradientUnits="userSpaceOnUse" x1="0" y1="34" x2="0" y2="411"><stop offset="0.000" stop-color="#ff0808"/><stop offset="0.135" stop-color="#ff0909"/><stop offset="0.346" stop-color="#ff7f7f"/><stop offset="0.537" stop-color="#ffefef"/><stop offset="0.569" stop-color="#fefeff"/><stop offset="0.800" stop-color="#8d8dff"/><stop offset="0.999" stop-color="#4d4dff"/></linearGradient>
<linearGradient id="c96" gradientUnits="userSpaceOnUse" x1="0" y1="34" x2="0" y2="411"><stop offset="0.000" stop-color="#ff0808"/><stop offset="0.139" stop-color="#ff0a0a"/><stop offset="0.342" stop-color="#ff7c7c"/><stop offset="0.521" stop-color="#ffe7e7"/><stop offset="0.569" stop-color="#fefeff"/><stop offset="0.800" stop-color="#8d8dff"/><stop offset="0.999" stop-color="#4d4dff"/></linearGradient>
<linearGradient id="c97" gradientUnits="userSpaceOnUse" x1="0" y1="34" x2="0" y2="411"><stop offset="0.000" stop-color="#ff0808"/><stop offset="0.143" stop-color="#ff0b0b"/><stop offset="0.342" stop-color="#ff7b7b"/><stop offset="0.517" stop-color="#ffe5e5"/><stop offset="0.569" stop-color="#fefeff"/><stop offset="0.800" stop-color="#8d8dff"/><stop offset="0.999" stop-color="#4d4dff"/></linearGradient>
<linearGradient id="c98" gradientUnits="userSpaceOnUse" x1="0" y1="34" x2="0" y2="411"><stop offset="0.000" stop-color="#ff0808"/><stop offset="0.143" stop-color="#ff0909"/><stop offset="0.338" stop-color="#ff7777"/><stop offset="0.509" stop-color="#ffe0e0"/><stop offset="0.569" stop-color="#fefeff"/><stop offset="0.800" stop-color="#8d8dff"/><stop offset="0.999" stop-color="#4d4dff"/></linearGradient>
<linearGradient id="c99" gradientUnits="userSpaceOnUse" x1="0" y1="34" x2="0" y2="411"><stop offset="0.000" stop-color="#ff0808"/><stop offset="0.147" stop-color="#ff0a0a"/><stop offset="0.338" stop-color="#ff7676"/><stop offset="0.509" stop-color="#ffe0e0"/><stop offset="0.569" stop-color="#fefeff"/><stop offset="0.800" stop-color="#8d8dff"/><stop offset="0.999" stop-color="#4d4dff"/></linearGradient>
<linearGradient id="c100" gradientUnits="userSpaceOnUse" x1="0" y1="34" x2="0" y2="411"><stop offset="0.000" stop-color="#ff0808"/><stop offset="0.147" stop-color="#ff0909"/><stop offset="0.334" stop-color="#ff7272"/><stop offset="0.505" stop-color="#ffdede"/><stop offset="0.569" stop-color="#fefeff"/><stop offset="0.800" stop-color="#8d8dff"/><stop offset="0.999" stop-color="#4d4dff"/></linearGradient>
<linearGradient id="c101" gradientUnits="userSpaceOnUse" x1="0" y1="34" x2="0" y2="411"><stop offset="0.000" stop-color="#ff0808"/><stop offset="0.151" stop-color="#ff0a0a"/><stop offset="0.334" stop-color="#ff7171"/><stop offset="0.501" stop-color="#ffdcdc"/><stop offset="0.569" stop-color="#fefeff"/><stop offset="0.800" stop-color="#8d8dff"/><stop offset="0.999" stop-color="#4d4dff"/></linearGradient>
<linearGradient id="c102" gradientUnits="userSpaceOnUse" x1="0" y1="34" x2="0" y2="411"><stop offset="0.000" stop-color="#ff0808"/><stop offset="0.155" stop-color="#ff0b0b"/><stop offset="0.334" stop-color="#ff7070"/><stop offset="0.501" stop-color="#ffdcdc"/><stop offset="0.569" stop-color="#fefeff"/><stop offset="0.800" stop-color="#8d8dff"/><stop offset="0.999" stop-color="#4d4dff"/></linearGradient>
<linearGradient id="c103" gradientUnits="userSpaceOnUse" x1="0" y1="34" x2="0" y2="411"><stop offset="0.000" stop-color="#ff0808"/><stop offset="0.155" stop-color="#ff0909"/><stop offset="0.334" stop-color="#ff6f6f"/><stop offset="0.501" stop-color="#ffdcdc"/><stop offset="0.569" stop-color="#fefeff"/><stop offset="0.800" stop-color="#8d8dff"/><stop offset="0.999" stop-color="#4d4dff"/></linearGradient>
<linearGradient id="s104" gradientUnits="userSpaceOnUse" x1="192.1" y1="78.2" x2="79.2" y2="375.3"><stop offset="0.0000" stop-color="#ff0808"/><stop offset="0.0588" stop-color="#ff1919"/><stop offset="0.1353" stop-color="#ff4242"/><stop offset="0.2000" stop-color="#ff6161"/><stop offset="0.3235" stop-color="#ffa6a6"/><stop offset="0.3971" stop-color="#ffd4d4"/><stop offset="0.4706" stop-color="#ffffff"/><stop offset="0.5882" stop-color="#c7c7ff"/><stop offset="0.7647" stop-color="#7a7aff"/><stop offset="1.0000" stop-color="#3d3dff"/></linearGradient>
<clipPath id="cl2"><polygon points="209.3,306.4 209.3,297.1 209.4,283.7 209.5,270 209.6,256.6 209.8,242.7 210,230 210.2,219.6 210.3,210.4 210.5,200 210.7,187.2 211,173.3 211.2,160 211.5,147.3 211.7,135.1 212,125 212.3,117.8 212.6,112.6 213,108 213.6,103.8 214.2,100.3 215,97 215.9,93.7 216.9,90.7 218,88 219.2,85.7 220.6,83.7 222,82 223.6,80.7 225.2,79.8 227,79 228.9,78.2 230.9,77.6 233,77 235.3,76.5 237.8,76.1 240,75.8 241.6,75.5 243,75.2 245,75.6 248,77 251.5,79 255,81 258.6,83 262.1,85.1 264.5,86.5 265.4,87.6 266.7,89.3 268,91 269.3,92.6 270.6,94.2 272,96 273.4,98.2 274.7,100.7 276,103 277.1,105.1 278.1,107 279,109 279.9,111 280.7,113 281.5,115 282.3,116.9 283.1,118.9 284,121 285.1,123.4 286.4,126.1 287.5,129 288.4,132.1 289.2,135.5 290,139 290.8,142.3 291.6,145.6 292.5,150 293.7,156 295.1,163 296.5,170 297.9,176.6 299.4,183.2 300.8,190 302.2,197.2 303.6,204.6 305,212 306.5,219 308.1,226 309.6,234 311.1,243.5 312.5,254 314,265 315.6,276.9 317.1,289.3 318.4,300 319.2,307.5 319.7,313.4 320.4,320 321.5,328.6 322.7,338 324,347 325.2,355.1 326.4,362.9 327.6,370.4 328.8,378.1 329.9,385.5 331.2,392 332.8,397.2 334.4,401.5 335.7,404.5 336.3,405.9 336.5,406 336.6,406 249.6,336.8"/></clipPath>
<linearGradient id="c105" gradientUnits="userSpaceOnUse" x1="0" y1="75" x2="0" y2="407"><stop offset="0.000" stop-color="#ff3232"/><stop offset="0.185" stop-color="#ff8585"/><stop offset="0.343" stop-color="#fff9f9"/><stop offset="0.352" stop-color="#fefeff"/><stop offset="0.569" stop-color="#5959ff"/><stop offset="0.700" stop-color="#0808ff"/><stop offset="0.998" stop-color="#0808ff"/></linearGradient>
<linearGradient id="c106" gradientUnits="userSpaceOnUse" x1="0" y1="75" x2="0" y2="407"><stop offset="0.000" stop-color="#ff3131"/><stop offset="0.190" stop-color="#ff8787"/><stop offset="0.348" stop-color="#fffbfb"/><stop offset="0.352" stop-color="#ffffff"/><stop offset="0.574" stop-color="#5858ff"/><stop offset="0.705" stop-color="#0808ff"/><stop offset="0.998" stop-color="#0808ff"/></linearGradient>
<linearGradient id="c107" gradientUnits="userSpaceOnUse" x1="0" y1="75" x2="0" y2="407"><stop offset="0.000" stop-color="#ff3030"/><stop offset="0.190" stop-color="#ff8686"/><stop offset="0.348" stop-color="#fffafa"/><stop offset="0.357" stop-color="#fdfdff"/><stop offset="0.578" stop-color="#5858ff"/><stop offset="0.709" stop-color="#0808ff"/><stop offset="0.998" stop-color="#0808ff"/></linearGradient>
<linearGradient id="c108" gradientUnits="userSpaceOnUse" x1="0" y1="75" x2="0" y2="407"><stop offset="0.000" stop-color="#ff3030"/><stop offset="0.194" stop-color="#ff8888"/><stop offset="0.357" stop-color="#fefeff"/><stop offset="0.583" stop-color="#5757ff"/><stop offset="0.714" stop-color="#0808ff"/><stop offset="0.998" stop-color="#0808ff"/></linearGradient>
<linearGradient id="c109" gradientUnits="userSpaceOnUse" x1="0" y1="75" x2="0" y2="407"><stop offset="0.000" stop-color="#ff2f2f"/><stop offset="0.194" stop-color="#ff8686"/><stop offset="0.352" stop-color="#fffafa"/><stop offset="0.361" stop-color="#fcfcff"/><stop offset="0.587" stop-color="#5757ff"/><stop offset="0.718" stop-color="#0808ff"/><stop offset="0.998" stop-color="#0808ff"/></linearGradient>
<linearGradient id="c110" gradientUnits="userSpaceOnUse" x1="0" y1="75" x2="0" y2="407"><stop offset="0.000" stop-color="#ff2e2e"/><stop offset="0.194" stop-color="#ff8585"/><stop offset="0.352" stop-color="#fff9f9"/><stop offset="0.361" stop-color="#fefeff"/><stop offset="0.587" stop-color="#5959ff"/><stop offset="0.723" stop-color="#0808ff"/><stop offset="0.998" stop-color="#0808ff"/></linearGradient>
<linearGradient id="c111" gradientUnits="userSpaceOnUse" x1="0" y1="75" x2="0" y2="407"><stop offset="0.000" stop-color="#ff2d2d"/><stop offset="0.199" stop-color="#ff8787"/><stop offset="0.357" stop-color="#fffbfb"/><stop offset="0.361" stop-color="#ffffff"/><stop offset="0.592" stop-color="#5858ff"/><stop offset="0.727" stop-color="#0808ff"/><stop offset="0.998" stop-color="#0808ff"/></linearGradient>
<linearGradient id="c112" gradientUnits="userSpaceOnUse" x1="0" y1="75" x2="0" y2="407"><stop offset="0.000" stop-color="#ff2c2c"/><stop offset="0.199" stop-color="#ff8686"/><stop offset="0.357" stop-color="#fffafa"/><stop offset="0.366" stop-color="#fdfdff"/><stop offset="0.596" stop-color="#5858ff"/><stop offset="0.732" stop-color="#0808ff"/><stop offset="0.998" stop-color="#0808ff"/></linearGradient>
<linearGradient id="c113" gradientUnits="userSpaceOnUse" x1="0" y1="75" x2="0" y2="407"><stop offset="0.000" stop-color="#ff2c2c"/><stop offset="0.203" stop-color="#ff8888"/><stop offset="0.366" stop-color="#fefeff"/><stop offset="0.601" stop-color="#5757ff"/><stop offset="0.736" stop-color="#0808ff"/><stop offset="0.998" stop-color="#0808ff"/></linearGradient>
<linearGradient id="c114" gradientUnits="userSpaceOnUse" x1="0" y1="75" x2="0" y2="407"><stop offset="0.000" stop-color="#ff2b2b"/><stop offset="0.203" stop-color="#ff8686"/><stop offset="0.361" stop-color="#fffafa"/><stop offset="0.370" stop-color="#fdfdff"/><stop offset="0.601" stop-color="#5959ff"/><stop offset="0.741" stop-color="#0808ff"/><stop offset="0.998" stop-color="#0808ff"/></linearGradient>
<linearGradient id="c115" gradientUnits="userSpaceOnUse" x1="0" y1="75" x2="0" y2="407"><stop offset="0.000" stop-color="#ff2a2a"/><stop offset="0.203" stop-color="#ff8585"/><stop offset="0.361" stop-color="#fff9f9"/><stop offset="0.370" stop-color="#fefeff"/><stop offset="0.605" stop-color="#5858ff"/><stop offset="0.745" stop-color="#0808ff"/><stop offset="0.998" stop-color="#0808ff"/></linearGradient>
<linearGradient id="c116" gradientUnits="userSpaceOnUse" x1="0" y1="75" x2="0" y2="407"><stop offset="0.000" stop-color="#ff2929"/><stop offset="0.208" stop-color="#ff8787"/><stop offset="0.366" stop-color="#fffbfb"/><stop offset="0.370" stop-color="#ffffff"/><stop offset="0.610" stop-color="#5858ff"/><stop offset="0.750" stop-color="#0808ff"/><stop offset="0.998" stop-color="#0808ff"/></linearGradient>
<linearGradient id="c117" gradientUnits="userSpaceOnUse" x1="0" y1="75" x2="0" y2="407"><stop offset="0.000" stop-color="#ff2929"/><stop offset="0.208" stop-color="#ff8686"/><stop offset="0.366" stop-color="#fffafa"/><stop offset="0.375" stop-color="#fdfdff"/><stop offset="0.614" stop-color="#5757ff"/><stop offset="0.755" stop-color="#0808ff"/><stop offset="0.998" stop-color="#0808ff"/></linearGradient>
<linearGradient id="c118" gradientUnits="userSpaceOnUse" x1="0" y1="75" x2="0" y2="407"><stop offset="0.000" stop-color="#ff2828"/><stop offset="0.212" stop-color="#ff8888"/><stop offset="0.375" stop-color="#fefeff"/><stop offset="0.619" stop-color="#5757ff"/><stop offset="0.759" stop-color="#0808ff"/><stop offset="0.998" stop-color="#0808ff"/></linearGradient>
<linearGradient id="c119" gradientUnits="userSpaceOnUse" x1="0" y1="75" x2="0" y2="407"><stop offset="0.000" stop-color="#ff2727"/><stop offset="0.212" stop-color="#ff8686"/><stop offset="0.370" stop-color="#fffafa"/><stop offset="0.380" stop-color="#fdfdff"/><stop offset="0.619" stop-color="#5959ff"/><stop offset="0.764" stop-color="#0808ff"/><stop offset="0.998" stop-color="#0808ff"/></linearGradient>
<linearGradient id="c120" gradientUnits="userSpaceOnUse" x1="0" y1="75" x2="0" y2="407"><stop offset="0.000" stop-color="#ff2626"/><stop offset="0.212" stop-color="#ff8585"/><stop offset="0.370" stop-color="#fff9f9"/><stop offset="0.380" stop-color="#fefeff"/><stop offset="0.623" stop-color="#5858ff"/><stop offset="0.768" stop-color="#0808ff"/><stop offset="0.998" stop-color="#0808ff"/></linearGradient>
<linearGradient id="c121" gradientUnits="userSpaceOnUse" x1="0" y1="75" x2="0" y2="407"><stop offset="0.000" stop-color="#ff2525"/><stop offset="0.217" stop-color="#ff8787"/><stop offset="0.375" stop-color="#fffbfb"/><stop offset="0.380" stop-color="#ffffff"/><stop offset="0.628" stop-color="#5858ff"/><stop offset="0.773" stop-color="#0808ff"/><stop offset="0.998" stop-color="#0808ff"/></linearGradient>
<linearGradient id="c122" gradientUnits="userSpaceOnUse" x1="0" y1="75" x2="0" y2="407"><stop offset="0.000" stop-color="#ff2525"/><stop offset="0.217" stop-color="#ff8686"/><stop offset="0.375" stop-color="#fffafa"/><stop offset="0.384" stop-color="#fdfdff"/><stop offset="0.633" stop-color="#5757ff"/><stop offset="0.777" stop-color="#0808ff"/><stop offset="0.998" stop-color="#0808ff"/></linearGradient>
<linearGradient id="c123" gradientUnits="userSpaceOnUse" x1="0" y1="75" x2="0" y2="407"><stop offset="0.000" stop-color="#ff2424"/><stop offset="0.221" stop-color="#ff8888"/><stop offset="0.384" stop-color="#fefeff"/><stop offset="0.633" stop-color="#5959ff"/><stop offset="0.786" stop-color="#0808ff"/><stop offset="0.998" stop-color="#0808ff"/></linearGradient>
<linearGradient id="c124" gradientUnits="userSpaceOnUse" x1="0" y1="75" x2="0" y2="407"><stop offset="0.000" stop-color="#ff2323"/><stop offset="0.221" stop-color="#ff8686"/><stop offset="0.380" stop-color="#fffafa"/><stop offset="0.389" stop-color="#fdfdff"/><stop offset="0.637" stop-color="#5858ff"/><stop offset="0.791" stop-color="#0808ff"/><stop offset="0.998" stop-color="#0808ff"/></linearGradient>
<linearGradient id="c125" gradientUnits="userSpaceOnUse" x1="0" y1="75" x2="0" y2="407"><stop offset="0.000" stop-color="#ff2222"/><stop offset="0.221" stop-color="#ff8585"/><stop offset="0.380" stop-color="#fff9f9"/><stop offset="0.389" stop-color="#fefeff"/><stop offset="0.642" stop-color="#5858ff"/><stop offset="0.795" stop-color="#0808ff"/><stop offset="0.998" stop-color="#0808ff"/></linearGradient>
<linearGradient id="c126" gradientUnits="userSpaceOnUse" x1="0" y1="75" x2="0" y2="407"><stop offset="0.000" stop-color="#ff2121"/><stop offset="0.226" stop-color="#ff8787"/><stop offset="0.384" stop-color="#fffbfb"/><stop offset="0.389" stop-color="#ffffff"/><stop offset="0.646" stop-color="#5757ff"/><stop offset="0.800" stop-color="#0808ff"/><stop offset="0.998" stop-color="#0808ff"/></linearGradient>
<linearGradient id="c127" gradientUnits="userSpaceOnUse" x1="0" y1="75" x2="0" y2="407"><stop offset="0.000" stop-color="#ff2121"/><stop offset="0.226" stop-color="#ff8686"/><stop offset="0.384" stop-color="#fffafa"/><stop offset="0.393" stop-color="#fdfdff"/><stop offset="0.646" stop-color="#5959ff"/><stop offset="0.804" stop-color="#0808ff"/><stop offset="0.998" stop-color="#0808ff"/></linearGradient>
<linearGradient id="c128" gradientUnits="userSpaceOnUse" x1="0" y1="75" x2="0" y2="407"><stop offset="0.000" stop-color="#ff2020"/><stop offset="0.230" stop-color="#ff8888"/><stop offset="0.393" stop-color="#fefeff"/><stop offset="0.651" stop-color="#5959ff"/><stop offset="0.809" stop-color="#0808ff"/><stop offset="0.998" stop-color="#0808ff"/></linearGradient>
<linearGradient id="c129" gradientUnits="userSpaceOnUse" x1="0" y1="75" x2="0" y2="407"><stop offset="0.000" stop-color="#ff1f1f"/><stop offset="0.230" stop-color="#ff8686"/><stop offset="0.389" stop-color="#fffafa"/><stop offset="0.398" stop-color="#fdfdff"/><stop offset="0.655" stop-color="#5858ff"/><stop offset="0.813" stop-color="#0808ff"/><stop offset="0.998" stop-color="#0808ff"/></linearGradient>
<linearGradient id="c130" gradientUnits="userSpaceOnUse" x1="0" y1="75" x2="0" y2="407"><stop offset="0.000" stop-color="#ff1e1e"/><stop offset="0.230" stop-color="#ff8585"/><stop offset="0.389" stop-color="#fff9f9"/><stop offset="0.398" stop-color="#fefeff"/><stop offset="0.660" stop-color="#5858ff"/><stop offset="0.818" stop-color="#0808ff"/><stop offset="0.998" stop-color="#0808ff"/></linearGradient>
<linearGradient id="c131" gradientUnits="userSpaceOnUse" x1="0" y1="75" x2="0" y2="407"><stop offset="0.000" stop-color="#ff1d1d"/><stop offset="0.235" stop-color="#ff8787"/><stop offset="0.393" stop-color="#fffbfb"/><stop offset="0.398" stop-color="#ffffff"/><stop offset="0.664" stop-color="#5757ff"/><stop offset="0.822" stop-color="#0808ff"/><stop offset="0.998" stop-color="#0808ff"/></linearGradient>
<linearGradient id="c132" gradientUnits="userSpaceOnUse" x1="0" y1="75" x2="0" y2="407"><stop offset="0.000" stop-color="#ff1d1d"/><stop offset="0.235" stop-color="#ff8686"/><stop offset="0.393" stop-color="#fffafa"/><stop offset="0.402" stop-color="#fdfdff"/><stop offset="0.669" stop-color="#5757ff"/><stop offset="0.827" stop-color="#0808ff"/><stop offset="0.998" stop-color="#0808ff"/></linearGradient>
<linearGradient id="c133" gradientUnits="userSpaceOnUse" x1="0" y1="75" x2="0" y2="407"><stop offset="0.000" stop-color="#ff1c1c"/><stop offset="0.239" stop-color="#ff8888"/><stop offset="0.402" stop-color="#fefeff"/><stop offset="0.669" stop-color="#5959ff"/><stop offset="0.831" stop-color="#0808ff"/><stop offset="0.998" stop-color="#0808ff"/></linearGradient>
<linearGradient id="c134" gradientUnits="userSpaceOnUse" x1="0" y1="75" x2="0" y2="407"><stop offset="0.000" stop-color="#ff1b1b"/><stop offset="0.239" stop-color="#ff8686"/><stop offset="0.398" stop-color="#fffafa"/><stop offset="0.407" stop-color="#fdfdff"/><stop offset="0.673" stop-color="#5858ff"/><stop offset="0.836" stop-color="#0808ff"/><stop offset="0.998" stop-color="#0808ff"/></linearGradient>
<linearGradient id="c135" gradientUnits="userSpaceOnUse" x1="0" y1="75" x2="0" y2="407"><stop offset="0.000" stop-color="#ff1a1a"/><stop offset="0.239" stop-color="#ff8585"/><stop offset="0.398" stop-color="#fff9f9"/><stop offset="0.407" stop-color="#fefeff"/><stop offset="0.678" stop-color="#5757ff"/><stop offset="0.840" stop-color="#0808ff"/><stop offset="0.998" stop-color="#0808ff"/></linearGradient>
<linearGradient id="c136" gradientUnits="userSpaceOnUse" x1="0" y1="75" x2="0" y2="407"><stop offset="0.000" stop-color="#ff1919"/><stop offset="0.244" stop-color="#ff8787"/><stop offset="0.402" stop-color="#fffbfb"/><stop offset="0.407" stop-color="#ffffff"/><stop offset="0.682" stop-color="#5757ff"/><stop offset="0.845" stop-color="#0808ff"/><stop offset="0.998" stop-color="#0808ff"/></linearGradient>
<linearGradient id="c137" gradientUnits="userSpaceOnUse" x1="0" y1="75" x2="0" y2="407"><stop offset="0.000" stop-color="#ff1919"/><stop offset="0.244" stop-color="#ff8686"/><stop offset="0.402" stop-color="#fffafa"/><stop offset="0.411" stop-color="#fdfdff"/><stop offset="0.682" stop-color="#5959ff"/><stop offset="0.849" stop-color="#0808ff"/><stop offset="0.998" stop-color="#0808ff"/></linearGradient>
<linearGradient id="c138" gradientUnits="userSpaceOnUse" x1="0" y1="75" x2="0" y2="407"><stop offset="0.000" stop-color="#ff1919"/><stop offset="0.244" stop-color="#ff8484"/><stop offset="0.411" stop-color="#fefeff"/><stop offset="0.687" stop-color="#5858ff"/><stop offset="0.854" stop-color="#0808ff"/><stop offset="0.998" stop-color="#0808ff"/></linearGradient>
<linearGradient id="c139" gradientUnits="userSpaceOnUse" x1="0" y1="75" x2="0" y2="407"><stop offset="0.000" stop-color="#ff1919"/><stop offset="0.248" stop-color="#ff8686"/><stop offset="0.407" stop-color="#fffafa"/><stop offset="0.416" stop-color="#fdfdff"/><stop offset="0.691" stop-color="#5858ff"/><stop offset="0.858" stop-color="#0808ff"/><stop offset="0.998" stop-color="#0808ff"/></linearGradient>
<linearGradient id="c140" gradientUnits="userSpaceOnUse" x1="0" y1="75" x2="0" y2="407"><stop offset="0.000" stop-color="#ff1919"/><stop offset="0.248" stop-color="#ff8585"/><stop offset="0.407" stop-color="#fff9f9"/><stop offset="0.416" stop-color="#fefeff"/><stop offset="0.696" stop-color="#5757ff"/><stop offset="0.863" stop-color="#0808ff"/><stop offset="0.998" stop-color="#0808ff"/></linearGradient>
<linearGradient id="c141" gradientUnits="userSpaceOnUse" x1="0" y1="75" x2="0" y2="407"><stop offset="0.000" stop-color="#ff1919"/><stop offset="0.081" stop-color="#ff3939"/><stop offset="0.253" stop-color="#ff8787"/><stop offset="0.411" stop-color="#fffbfb"/><stop offset="0.416" stop-color="#ffffff"/><stop offset="0.700" stop-color="#5757ff"/><stop offset="0.867" stop-color="#0808ff"/><stop offset="0.998" stop-color="#0808ff"/></linearGradient>
<linearGradient id="c142" gradientUnits="userSpaceOnUse" x1="0" y1="75" x2="0" y2="407"><stop offset="0.000" stop-color="#ff1919"/><stop offset="0.050" stop-color="#ff2a2a"/><stop offset="0.253" stop-color="#ff8686"/><stop offset="0.411" stop-color="#fffafa"/><stop offset="0.420" stop-color="#fdfdff"/><stop offset="0.700" stop-color="#5959ff"/><stop offset="0.872" stop-color="#0808ff"/><stop offset="0.998" stop-color="#0808ff"/></linearGradient>
<linearGradient id="c143" gradientUnits="userSpaceOnUse" x1="0" y1="75" x2="0" y2="407"><stop offset="0.000" stop-color="#ff1919"/><stop offset="0.036" stop-color="#ff2424"/><stop offset="0.258" stop-color="#ff8888"/><stop offset="0.420" stop-color="#fefeff"/><stop offset="0.705" stop-color="#5858ff"/><stop offset="0.877" stop-color="#0808ff"/><stop offset="0.998" stop-color="#0808ff"/></linearGradient>
<linearGradient id="c144" gradientUnits="userSpaceOnUse" x1="0" y1="75" x2="0" y2="407"><stop offset="0.000" stop-color="#ff1919"/><stop offset="0.032" stop-color="#ff2121"/><stop offset="0.258" stop-color="#ff8686"/><stop offset="0.416" stop-color="#fffafa"/><stop offset="0.425" stop-color="#fdfdff"/><stop offset="0.709" stop-color="#5858ff"/><stop offset="0.881" stop-color="#0808ff"/><stop offset="0.998" stop-color="#0808ff"/></linearGradient>
<linearGradient id="c145" gradientUnits="userSpaceOnUse" x1="0" y1="75" x2="0" y2="407"><stop offset="0.000" stop-color="#ff1818"/><stop offset="0.032" stop-color="#ff2020"/><stop offset="0.258" stop-color="#ff8585"/><stop offset="0.416" stop-color="#fff9f9"/><stop offset="0.425" stop-color="#fefeff"/><stop offset="0.714" stop-color="#5757ff"/><stop offset="0.886" stop-color="#0808ff"/><stop offset="0.998" stop-color="#0808ff"/></linearGradient>
<linearGradient id="c146" gradientUnits="userSpaceOnUse" x1="0" y1="75" x2="0" y2="407"><stop offset="0.000" stop-color="#ff1818"/><stop offset="0.032" stop-color="#ff1f1f"/><stop offset="0.262" stop-color="#ff8787"/><stop offset="0.420" stop-color="#fffbfb"/><stop offset="0.425" stop-color="#ffffff"/><stop offset="0.714" stop-color="#5959ff"/><stop offset="0.890" stop-color="#0808ff"/><stop offset="0.998" stop-color="#0808ff"/></linearGradient>
<linearGradient id="c147" gradientUnits="userSpaceOnUse" x1="0" y1="75" x2="0" y2="407"><stop offset="0.000" stop-color="#ff1818"/><stop offset="0.032" stop-color="#ff1f1f"/><stop offset="0.262" stop-color="#ff8686"/><stop offset="0.420" stop-color="#fffafa"/><stop offset="0.429" stop-color="#fefeff"/><stop offset="0.718" stop-color="#5858ff"/><stop offset="0.895" stop-color="#0808ff"/><stop offset="0.998" stop-color="#0808ff"/></linearGradient>
<linearGradient id="c148" gradientUnits="userSpaceOnUse" x1="0" y1="75" x2="0" y2="407"><stop offset="0.000" stop-color="#ff1818"/><stop offset="0.032" stop-color="#ff1e1e"/><stop offset="0.267" stop-color="#ff8888"/><stop offset="0.429" stop-color="#ffffff"/><stop offset="0.723" stop-color="#5858ff"/><stop offset="0.899" stop-color="#0808ff"/><stop offset="0.998" stop-color="#0808ff"/></linearGradient>
<linearGradient id="c149" gradientUnits="userSpaceOnUse" x1="0" y1="75" x2="0" y2="407"><stop offset="0.000" stop-color="#ff1818"/><stop offset="0.036" stop-color="#ff1f1f"/><stop offset="0.267" stop-color="#ff8686"/><stop offset="0.425" stop-color="#fffafa"/><stop offset="0.434" stop-color="#fdfdff"/><stop offset="0.727" stop-color="#5757ff"/><stop offset="0.904" stop-color="#0808ff"/><stop offset="0.998" stop-color="#0808ff"/></linearGradient>
<linearGradient id="c150" gradientUnits="userSpaceOnUse" x1="0" y1="75" x2="0" y2="407"><stop offset="0.000" stop-color="#ff1818"/><stop offset="0.036" stop-color="#ff1e1e"/><stop offset="0.267" stop-color="#ff8585"/><stop offset="0.425" stop-color="#fff9f9"/><stop offset="0.434" stop-color="#fefeff"/><stop offset="0.732" stop-color="#5757ff"/><stop offset="0.908" stop-color="#0808ff"/><stop offset="0.998" stop-color="#0808ff"/></linearGradient>
<linearGradient id="c151" gradientUnits="userSpaceOnUse" x1="0" y1="75" x2="0" y2="407"><stop offset="0.000" stop-color="#ff1818"/><stop offset="0.036" stop-color="#ff1d1d"/><stop offset="0.271" stop-color="#ff8787"/><stop offset="0.429" stop-color="#fffbfb"/><stop offset="0.434" stop-color="#ffffff"/><stop offset="0.732" stop-color="#5959ff"/><stop offset="0.913" stop-color="#0808ff"/><stop offset="0.998" stop-color="#0808ff"/></linearGradient>
<linearGradient id="c152" gradientUnits="userSpaceOnUse" x1="0" y1="75" x2="0" y2="407"><stop offset="0.000" stop-color="#ff1818"/><stop offset="0.041" stop-color="#ff1f1f"/><stop offset="0.271" stop-color="#ff8686"/><stop offset="0.429" stop-color="#fffafa"/><stop offset="0.438" stop-color="#fefeff"/><stop offset="0.736" stop-color="#5858ff"/><stop offset="0.917" stop-color="#0808ff"/><stop offset="0.998" stop-color="#0808ff"/></linearGradient>
<linearGradient id="c153" gradientUnits="userSpaceOnUse" x1="0" y1="75" x2="0" y2="407"><stop offset="0.000" stop-color="#ff1717"/><stop offset="0.041" stop-color="#ff1e1e"/><stop offset="0.276" stop-color="#ff8888"/><stop offset="0.438" stop-color="#ffffff"/><stop offset="0.741" stop-color="#5858ff"/><stop offset="0.922" stop-color="#0808ff"/><stop offset="0.998" stop-color="#0808ff"/></linearGradient>
<linearGradient id="c154" gradientUnits="userSpaceOnUse" x1="0" y1="75" x2="0" y2="407"><stop offset="0.000" stop-color="#ff1717"/><stop offset="0.041" stop-color="#ff1d1d"/><stop offset="0.276" stop-color="#ff8686"/><stop offset="0.434" stop-color="#fffafa"/><stop offset="0.443" stop-color="#fdfdff"/><stop offset="0.745" stop-color="#5757ff"/><stop offset="0.926" stop-color="#0808ff"/><stop offset="0.998" stop-color="#0808ff"/></linearGradient>
<linearGradient id="c155" gradientUnits="userSpaceOnUse" x1="0" y1="75" x2="0" y2="407"><stop offset="0.000" stop-color="#ff1717"/><stop offset="0.045" stop-color="#ff1e1e"/><stop offset="0.276" stop-color="#ff8585"/><stop offset="0.434" stop-color="#fff9f9"/><stop offset="0.443" stop-color="#fefeff"/><stop offset="0.750" stop-color="#5757ff"/><stop offset="0.931" stop-color="#0808ff"/><stop offset="0.998" stop-color="#0808ff"/></linearGradient>
<linearGradient id="c156" gradientUnits="userSpaceOnUse" x1="0" y1="75" x2="0" y2="407"><stop offset="0.000" stop-color="#ff1717"/><stop offset="0.045" stop-color="#ff1d1d"/><stop offset="0.280" stop-color="#ff8787"/><stop offset="0.438" stop-color="#fffbfb"/><stop offset="0.443" stop-color="#ffffff"/><stop offset="0.750" stop-color="#5858ff"/><stop offset="0.935" stop-color="#0808ff"/><stop offset="0.998" stop-color="#0808ff"/></linearGradient>
<linearGradient id="c157" gradientUnits="userSpaceOnUse" x1="0" y1="75" x2="0" y2="407"><stop offset="0.000" stop-color="#ff1717"/><stop offset="0.045" stop-color="#ff1d1d"/><stop offset="0.280" stop-color="#ff8686"/><stop offset="0.438" stop-color="#fffafa"/><stop offset="0.447" stop-color="#fefeff"/><stop offset="0.755" stop-color="#5858ff"/><stop offset="0.940" stop-color="#0808ff"/><stop offset="0.998" stop-color="#0808ff"/></linearGradient>
<linearGradient id="c158" gradientUnits="userSpaceOnUse" x1="0" y1="75" x2="0" y2="407"><stop offset="0.000" stop-color="#ff1717"/><stop offset="0.050" stop-color="#ff1e1e"/><stop offset="0.285" stop-color="#ff8888"/><stop offset="0.447" stop-color="#ffffff"/><stop offset="0.759" stop-color="#5757ff"/><stop offset="0.944" stop-color="#0808ff"/><stop offset="0.998" stop-color="#0808ff"/></linearGradient>
<linearGradient id="c159" gradientUnits="userSpaceOnUse" x1="0" y1="75" x2="0" y2="407"><stop offset="0.000" stop-color="#ff1717"/><stop offset="0.050" stop-color="#ff1d1d"/><stop offset="0.285" stop-color="#ff8686"/><stop offset="0.443" stop-color="#fffafa"/><stop offset="0.452" stop-color="#fdfdff"/><stop offset="0.764" stop-color="#5757ff"/><stop offset="0.949" stop-color="#0808ff"/><stop offset="0.998" stop-color="#0808ff"/></linearGradient>
<linearGradient id="c160" gradientUnits="userSpaceOnUse" x1="0" y1="75" x2="0" y2="407"><stop offset="0.000" stop-color="#ff1717"/><stop offset="0.050" stop-color="#ff1c1c"/><stop offset="0.285" stop-color="#ff8585"/><stop offset="0.443" stop-color="#fff9f9"/><stop offset="0.452" stop-color="#fefeff"/><stop offset="0.764" stop-color="#5959ff"/><stop offset="0.953" stop-color="#0808ff"/><stop offset="0.998" stop-color="#0808ff"/></linearGradient>
<linearGradient id="c161" gradientUnits="userSpaceOnUse" x1="0" y1="75" x2="0" y2="407"><stop offset="0.000" stop-color="#ff1717"/><stop offset="0.054" stop-color="#ff1d1d"/><stop offset="0.289" stop-color="#ff8787"/><stop offset="0.447" stop-color="#fffbfb"/><stop offset="0.452" stop-color="#ffffff"/><stop offset="0.768" stop-color="#5858ff"/><stop offset="0.958" stop-color="#0808ff"/><stop offset="0.998" stop-color="#0808ff"/></linearGradient>
<linearGradient id="c162" gradientUnits="userSpaceOnUse" x1="0" y1="75" x2="0" y2="407"><stop offset="0.000" stop-color="#ff1616"/><stop offset="0.054" stop-color="#ff1d1d"/><stop offset="0.289" stop-color="#ff8686"/><stop offset="0.447" stop-color="#fffafa"/><stop offset="0.456" stop-color="#fefeff"/><stop offset="0.773" stop-color="#5858ff"/><stop offset="0.962" stop-color="#0808ff"/><stop offset="0.998" stop-color="#0808ff"/></linearGradient>
<linearGradient id="c163" gradientUnits="userSpaceOnUse" x1="0" y1="75" x2="0" y2="407"><stop offset="0.000" stop-color="#ff1616"/><stop offset="0.059" stop-color="#ff1e1e"/><stop offset="0.294" stop-color="#ff8888"/><stop offset="0.456" stop-color="#ffffff"/><stop offset="0.777" stop-color="#5757ff"/><stop offset="0.967" stop-color="#0808ff"/><stop offset="0.998" stop-color="#0808ff"/></linearGradient>
<linearGradient id="c164" gradientUnits="userSpaceOnUse" x1="0" y1="75" x2="0" y2="407"><stop offset="0.000" stop-color="#ff1616"/><stop offset="0.059" stop-color="#ff1d1d"/><stop offset="0.294" stop-color="#ff8686"/><stop offset="0.452" stop-color="#fffafa"/><stop offset="0.461" stop-color="#fdfdff"/><stop offset="0.777" stop-color="#5959ff"/><stop offset="0.971" stop-color="#0808ff"/><stop offset="0.998" stop-color="#0808ff"/></linearGradient>
<linearGradient id="c165" gradientUnits="userSpaceOnUse" x1="0" y1="75" x2="0" y2="407"><stop offset="0.000" stop-color="#ff1616"/><stop offset="0.059" stop-color="#ff1c1c"/><stop offset="0.294" stop-color="#ff8585"/><stop offset="0.452" stop-color="#fff9f9"/><stop offset="0.461" stop-color="#fefeff"/><stop offset="0.782" stop-color="#5858ff"/><stop offset="0.976" stop-color="#0808ff"/><stop offset="0.998" stop-color="#0808ff"/></linearGradient>
<linearGradient id="c166" gradientUnits="userSpaceOnUse" x1="0" y1="75" x2="0" y2="407"><stop offset="0.000" stop-color="#ff1616"/><stop offset="0.063" stop-color="#ff1d1d"/><stop offset="0.298" stop-color="#ff8787"/><stop offset="0.456" stop-color="#fffbfb"/><stop offset="0.461" stop-color="#ffffff"/><stop offset="0.786" stop-color="#5858ff"/><stop offset="0.980" stop-color="#0808ff"/><stop offset="0.998" stop-color="#0808ff"/></linearGradient>
<linearGradient id="c167" gradientUnits="userSpaceOnUse" x1="0" y1="75" x2="0" y2="407"><stop offset="0.000" stop-color="#ff1616"/><stop offset="0.063" stop-color="#ff1d1d"/><stop offset="0.298" stop-color="#ff8686"/><stop offset="0.456" stop-color="#fffafa"/><stop offset="0.465" stop-color="#fefeff"/><stop offset="0.791" stop-color="#5757ff"/><stop offset="0.985" stop-color="#0808ff"/><stop offset="0.998" stop-color="#0808ff"/></linearGradient>
<linearGradient id="c168" gradientUnits="userSpaceOnUse" x1="0" y1="75" x2="0" y2="407"><stop offset="0.000" stop-color="#ff1616"/><stop offset="0.068" stop-color="#ff1e1e"/><stop offset="0.303" stop-color="#ff8888"/><stop offset="0.465" stop-color="#ffffff"/><stop offset="0.795" stop-color="#5757ff"/><stop offset="0.989" stop-color="#0808ff"/><stop offset="0.998" stop-color="#0808ff"/></linearGradient>
<linearGradient id="cb169" x1="0" y1="0" x2="0" y2="1"><stop offset="0" stop-color="#ff0000"/><stop offset="0.5" stop-color="#ffffff"/><stop offset="1" stop-color="#0000ff"/></linearGradient></defs>
<rect width="685" height="500" fill="#fff"/>
<line x1="136.9" y1="352.8" x2="120.9" y2="18.4" stroke="#d0d0d0" stroke-width="0.9"/>
<line x1="221" y1="340.9" x2="208.8" y2="12.5" stroke="#d0d0d0" stroke-width="0.9"/>
<line x1="301.9" y1="329.4" x2="293.4" y2="6.9" stroke="#d0d0d0" stroke-width="0.9"/>
<line x1="69.3" y1="318.4" x2="379.2" y2="277.4" stroke="#d0d0d0" stroke-width="0.9"/>
<line x1="66.8" y1="274.3" x2="378.6" y2="236.1" stroke="#d0d0d0" stroke-width="0.9"/>
<line x1="64.2" y1="229.6" x2="377.9" y2="194.3" stroke="#d0d0d0" stroke-width="0.9"/>
<line x1="61.7" y1="184.4" x2="377.2" y2="152.1" stroke="#d0d0d0" stroke-width="0.9"/>
<line x1="59.1" y1="138.7" x2="376.6" y2="109.4" stroke="#d0d0d0" stroke-width="0.9"/>
<line x1="56.5" y1="92.4" x2="375.9" y2="66.2" stroke="#d0d0d0" stroke-width="0.9"/>
<line x1="53.8" y1="45.6" x2="375.2" y2="22.5" stroke="#d0d0d0" stroke-width="0.9"/>
<line x1="414.9" y1="338.5" x2="411.1" y2="7.2" stroke="#d0d0d0" stroke-width="0.9"/>
<line x1="453.3" y1="360.7" x2="451.1" y2="13.5" stroke="#d0d0d0" stroke-width="0.9"/>
<line x1="495.7" y1="385.2" x2="495.4" y2="20.6" stroke="#d0d0d0" stroke-width="0.9"/>
<line x1="379.2" y1="277.4" x2="542.8" y2="363.2" stroke="#d0d0d0" stroke-width="0.9"/>
<line x1="378.6" y1="236.1" x2="543.1" y2="313.4" stroke="#d0d0d0" stroke-width="0.9"/>
<line x1="377.9" y1="194.3" x2="543.4" y2="262.9" stroke="#d0d0d0" stroke-width="0.9"/>
<line x1="377.2" y1="152.1" x2="543.7" y2="211.8" stroke="#d0d0d0" stroke-width="0.9"/>
<line x1="376.6" y1="109.4" x2="544" y2="160" stroke="#d0d0d0" stroke-width="0.9"/>
<line x1="375.9" y1="66.2" x2="544.2" y2="107.5" stroke="#d0d0d0" stroke-width="0.9"/>
<line x1="375.2" y1="22.5" x2="544.5" y2="54.2" stroke="#d0d0d0" stroke-width="0.9"/>
<line x1="52.3" y1="22" x2="374.6" y2="1.6" stroke="#555" stroke-width="1.1"/>
<line x1="374.6" y1="1.6" x2="544.6" y2="28.8" stroke="#555" stroke-width="1.1"/>
<line x1="374.6" y1="1.6" x2="379.9" y2="318.3" stroke="#555" stroke-width="1.1"/>
<line x1="544.6" y1="28.8" x2="542.6" y2="412.3" stroke="#555" stroke-width="1.1"/>
<polygon points="71.9,361.9 380,318 542.5,412.5 176.7,474.5" fill="#ff1010"/>
<polygon points="71.9,361.9 380,318 384.2,321.3 74.6,365.7" fill="url(#f1)"/>
<polygon points="74.6,364.8 384.2,320.4 388.5,323.8 77.3,368.6" fill="url(#f2)"/>
<polygon points="77.3,367.7 388.5,322.9 392.8,326.3 80,371.5" fill="url(#f3)"/>
<polygon points="80,370.6 392.8,325.4 397.1,328.9 82.8,374.5" fill="url(#f4)"/>
<polygon points="82.8,373.6 397.1,328 401.5,331.4 85.6,377.5" fill="url(#f5)"/>
<polygon points="85.6,376.6 401.5,330.5 406,334 88.4,380.6" fill="url(#f6)"/>
<polygon points="88.4,379.7 406,333.1 410.5,336.6 91.3,383.7" fill="url(#f7)"/>
<polygon points="91.3,382.8 410.5,335.7 415,339.3 94.2,386.8" fill="url(#f8)"/>
<polygon points="94.2,385.9 415,338.4 419.6,341.9 97.2,390" fill="url(#f9)"/>
<polygon points="97.2,389.1 419.6,341 424.3,344.6 100.2,393.2" fill="url(#f10)"/>
<polygon points="100.2,392.3 424.3,343.7 429,347.4 103.2,396.4" fill="url(#f11)"/>
<polygon points="103.2,395.5 429,346.5 433.8,350.2 106.2,399.7" fill="url(#f12)"/>
<polygon points="106.2,398.8 433.8,349.3 438.6,353 109.3,403" fill="url(#f13)"/>
<polygon points="109.3,402.1 438.6,352.1 443.5,355.8 112.5,406.4" fill="url(#f14)"/>
<polygon points="112.5,405.5 443.5,354.9 448.4,358.7 115.6,409.8" fill="url(#f15)"/>
<polygon points="115.6,408.9 448.4,357.8 453.4,361.6 118.9,413.3" fill="url(#f16)"/>
<polygon points="118.9,412.4 453.4,360.7 458.5,364.5 122.1,416.8" fill="url(#f17)"/>
<polygon points="122.1,415.9 458.5,363.6 463.6,367.5 125.4,420.3" fill="url(#f18)"/>
<polygon points="125.4,419.4 463.6,366.6 468.8,370.5 128.8,423.9" fill="url(#f19)"/>
<polygon points="128.8,423 468.8,369.6 474,373.6 132.2,427.6" fill="url(#f20)"/>
<polygon points="132.2,426.7 474,372.7 479.3,376.7 135.6,431.2" fill="url(#f21)"/>
<polygon points="135.6,430.3 479.3,375.8 484.7,379.8 139.1,435" fill="url(#f22)"/>
<polygon points="139.1,434.1 484.7,378.9 490.2,383 142.6,438.8" fill="url(#f23)"/>
<polygon points="142.6,437.9 490.2,382.1 495.7,386.2 146.2,442.6" fill="url(#f24)"/>
<polygon points="146.2,441.7 495.7,385.3 501.3,389.4 149.8,446.5" fill="url(#f25)"/>
<polygon points="149.8,445.6 501.3,388.5 506.9,392.7 153.5,450.5" fill="url(#f26)"/>
<polygon points="153.5,449.6 506.9,391.8 512.7,396.1 157.2,454.5" fill="url(#f27)"/>
<polygon points="157.2,453.6 512.7,395.2 518.5,399.4 161,458.6" fill="url(#f28)"/>
<polygon points="161,457.7 518.5,398.5 524.4,402.9 164.9,462.7" fill="url(#f29)"/>
<polygon points="164.9,461.8 524.4,402 530.3,406.3 168.7,466.9" fill="url(#f30)"/>
<polygon points="168.7,466 530.3,405.4 536.4,409.8 172.7,471.1" fill="url(#f31)"/>
<polygon points="172.7,470.2 536.4,408.9 542.5,413.4 176.7,475.4" fill="url(#f32)"/>
<line x1="136.8" y1="352.6" x2="254.7" y2="461.3" stroke="rgba(205,205,205,0.5)" stroke-width="0.9"/>
<line x1="220.7" y1="340.7" x2="354.8" y2="444.3" stroke="rgba(205,205,205,0.5)" stroke-width="0.9"/>
<line x1="301.8" y1="329.1" x2="450.6" y2="428.1" stroke="rgba(205,205,205,0.5)" stroke-width="0.9"/>
<line x1="94.2" y1="385.9" x2="415" y2="338.4" stroke="rgba(205,205,205,0.5)" stroke-width="0.9"/>
<line x1="118.9" y1="412.4" x2="453.4" y2="360.7" stroke="rgba(205,205,205,0.5)" stroke-width="0.9"/>
<line x1="146.2" y1="441.7" x2="495.7" y2="385.3" stroke="rgba(205,205,205,0.5)" stroke-width="0.9"/>
<line x1="71.9" y1="361.9" x2="380" y2="318" stroke="#bbb" stroke-width="0.8"/>
<line x1="380" y1="318" x2="542.5" y2="412.5" stroke="#888" stroke-width="0.9"/>
<polyline points="102.4,310 103.7,310.2 105.7,310.5 107.6,311 109.4,311.6 111.2,312.3 112.9,313.1 114.4,314 115.8,315.1 117.1,316.3 118.3,317.6 119.5,319 120.6,320.5 121.6,322.1 122.5,323.8 123.4,325.7 124.2,327.6 124.8,329.7 125.5,332 126.2,334.6 126.9,337.4 127.6,340.4 128.2,343.7 128.7,347.3 129.2,350.9 129.7,354.4 130.2,357.9 130.7,361.4 131.2,365 131.6,368.6 132,371.9 132.3,374.9 132.5,377.7 132.8,380.3 133.2,382.7 133.6,384.9 133.9,386.6 134.1,387.6 134.3,388.1 134.5,388.2 134.7,388.3 134.9,388 135.1,386.6 135.4,383.5 135.7,379.4 136,375 136.3,370.5 136.6,365.8 137,361.4 137.5,357.7 138,354.3 138.5,350.9 139,347.4 139.6,343.9 140.2,340.4 140.9,336.8 141.6,333.2 142.3,329.9 143.1,326.9 143.9,324.1 144.8,321.5 145.8,318.9 146.8,316.5 147.9,314.2 149.1,312 150.3,309.9 151.7,307.9 153.2,306.1 154.7,304.4 156.3,303 157.9,302 159.5,301.2 161.2,300.5 163.3,299.8 165.5,299.1 167,298.6" fill="none" stroke="#0000f5" stroke-width="3.1" stroke-linecap="round" stroke-linejoin="round"/>
<line x1="95.2" y1="344.5" x2="116.1" y2="344.5" stroke="#0000f5" stroke-width="1.9" stroke-linecap="butt"/>
<polygon points="121.6,344.5 115.1,348.3 115.1,340.7" fill="#0000f5"/>
<line x1="169.6" y1="344.5" x2="148.7" y2="344.5" stroke="#0000f5" stroke-width="1.9" stroke-linecap="butt"/>
<polygon points="143.2,344.5 149.7,340.7 149.7,348.3" fill="#0000f5"/>
<line x1="112.5" y1="396.8" x2="124.1" y2="394.5" stroke="#ffffff" stroke-width="3" stroke-linecap="butt"/>
<polygon points="131,393.2 124.1,399.6 122.2,389.8" fill="#ffffff"/>
<line x1="153.5" y1="383.5" x2="142" y2="388.2" stroke="#ffffff" stroke-width="3" stroke-linecap="butt"/>
<polygon points="135.5,390.8 141,383.2 144.8,392.4" fill="#ffffff"/>
<polygon points="264.5,86.5 267.8,83.4 272.4,78.9 277,74.6 281,71.1 285,67.9 288.9,64.4 292.9,60.5 297,56.5 300.8,52.5 304.4,48.7 307.8,45 311,41.5 314,38.2 316.7,35 319.5,32.1 322.3,29.3 325.2,26.7 328,24.5 330.8,23 333.7,21.9 336.5,21 339.3,20.2 342,19.7 345,19.4 348.3,19.4 351.8,19.6 355.2,19.9 358.5,20.3 361.8,20.9 365,21.5 368.5,22.3 372,23.2 374.5,23.8 382.6,25.5 394.1,27.8 405,30 413.6,31.7 421.5,33.3 430,35 439.4,36.9 449.4,38.9 460,40.6 472.2,42 485,43.1 496,44.3 503.6,45.6 509.4,46.9 515.8,48.1 524.6,49.3 534,50.4 540.6,51.2 532.1,50.7 522,50.2 515.4,50.4 509.6,50.9 503.2,51.8 497.2,53 492.5,54.6 488.5,56.7 484.7,59.2 481,62.3 476.6,66.5 472.4,71 469.1,74.8 466.2,78.5 463,82.2 460,85.9 457.6,89.5 455.5,93 453.7,96.3 451.5,100 448,105 444.4,110 442.1,113.7 440.2,117 438.1,120.4 436,124 433.9,128.3 431.8,132.4 429.8,135.4 427.6,138 425,140.5 422,142.9 418.6,145.3 415,147.8 411.4,150.5 408,153.4 405.1,156.7 402.4,160.4 399.5,164.6 396.8,168.8 394.5,172.8 392.6,176.5 391,179.6 389.5,183 387.5,187.5 385.4,192.4 383.3,197.2 381.4,202 379.7,206.7 378.2,211.6 376.6,217.1 375,222.8 373.4,228.6 371.8,234 370.5,237.9 369.2,242 367.9,247.8 366.5,254.4 365.1,261.5 363.8,268.8 362.5,276 361.1,283.2 359.7,290.4 358.4,297.6 357.3,305 356.2,312 355.1,317.3 353.9,322.7 352.5,329.9 351,338 349.6,346.8 348.3,356 347,365.2 345.6,374 344.2,381.7 342.9,388.4 341.5,394.3 340.2,399.1 338.7,402.9 337.5,405.4 336.9,406.1 336.6,406 335.5,406 335.3,405.9 334.7,404.5 333.4,401.5 331.8,397.2 330.2,392 328.9,385.5 327.8,378.1 326.6,370.4 325.4,362.9 324.2,355.1 323,347 321.7,338 320.5,328.6 319.4,320 318.7,313.4 318.2,307.5 317.4,300 316.1,289.3 314.6,276.9 313,265 311.5,254 310.1,243.5 308.6,234 307.1,226 305.5,219 304,212 302.6,204.6 301.2,197.2 299.8,190 298.4,183.2 296.9,176.6 295.5,170 294.1,163 292.7,156 291.5,150 290.6,145.6 289.8,142.3 289,139 288.2,135.5 287.4,132.1 286.5,129 285.4,126.1 284.1,123.4 283,121 282.1,118.9 281.3,116.9 280.5,115 279.7,113 278.9,111 278,109 277.1,107 276.1,105.1 275,103 273.7,100.7 272.4,98.2 271,96 269.6,94.2 268.3,92.6 267,91 265.7,89.3 264.4,87.6 263.5,86.5" fill="url(#s33)"/>
<g clip-path="url(#cl1)"><rect x="55" y="34" width="3.6" height="377" fill="url(#c34)"/><rect x="58" y="34" width="3.6" height="377" fill="url(#c35)"/><rect x="61" y="34" width="3.6" height="377" fill="url(#c36)"/><rect x="64" y="34" width="3.6" height="377" fill="url(#c37)"/><rect x="67" y="34" width="3.6" height="377" fill="url(#c38)"/><rect x="70" y="34" width="3.6" height="377" fill="url(#c39)"/><rect x="73" y="34" width="3.6" height="377" fill="url(#c40)"/><rect x="76" y="34" width="3.6" height="377" fill="url(#c41)"/><rect x="79" y="34" width="3.6" height="377" fill="url(#c42)"/><rect x="82" y="34" width="3.6" height="377" fill="url(#c43)"/><rect x="85" y="34" width="3.6" height="377" fill="url(#c44)"/><rect x="88" y="34" width="3.6" height="377" fill="url(#c45)"/><rect x="91" y="34" width="3.6" height="377" fill="url(#c46)"/><rect x="94" y="34" width="3.6" height="377" fill="url(#c47)"/><rect x="97" y="34" width="3.6" height="377" fill="url(#c48)"/><rect x="100" y="34" width="3.6" height="377" fill="url(#c49)"/><rect x="103" y="34" width="3.6" height="377" fill="url(#c50)"/><rect x="106" y="34" width="3.6" height="377" fill="url(#c51)"/><rect x="109" y="34" width="3.6" height="377" fill="url(#c52)"/><rect x="112" y="34" width="3.6" height="377" fill="url(#c53)"/><rect x="115" y="34" width="3.6" height="377" fill="url(#c54)"/><rect x="118" y="34" width="3.6" height="377" fill="url(#c55)"/><rect x="121" y="34" width="3.6" height="377" fill="url(#c56)"/><rect x="124" y="34" width="3.6" height="377" fill="url(#c57)"/><rect x="127" y="34" width="3.6" height="377" fill="url(#c58)"/><rect x="130" y="34" width="3.6" height="377" fill="url(#c59)"/><rect x="133" y="34" width="3.6" height="377" fill="url(#c60)"/><rect x="136" y="34" width="3.6" height="377" fill="url(#c61)"/><rect x="139" y="34" width="3.6" height="377" fill="url(#c62)"/><rect x="142" y="34" width="3.6" height="377" fill="url(#c63)"/><rect x="145" y="34" width="3.6" height="377" fill="url(#c64)"/><rect x="148" y="34" width="3.6" height="377" fill="url(#c65)"/><rect x="151" y="34" width="3.6" height="377" fill="url(#c66)"/><rect x="154" y="34" width="3.6" height="377" fill="url(#c67)"/><rect x="157" y="34" width="3.6" height="377" fill="url(#c68)"/><rect x="160" y="34" width="3.6" height="377" fill="url(#c69)"/><rect x="163" y="34" width="3.6" height="377" fill="url(#c70)"/><rect x="166" y="34" width="3.6" height="377" fill="url(#c71)"/><rect x="169" y="34" width="3.6" height="377" fill="url(#c72)"/><rect x="172" y="34" width="3.6" height="377" fill="url(#c73)"/><rect x="175" y="34" width="3.6" height="377" fill="url(#c74)"/><rect x="178" y="34" width="3.6" height="377" fill="url(#c75)"/><rect x="181" y="34" width="3.6" height="377" fill="url(#c76)"/><rect x="184" y="34" width="3.6" height="377" fill="url(#c77)"/><rect x="187" y="34" width="3.6" height="377" fill="url(#c78)"/><rect x="190" y="34" width="3.6" height="377" fill="url(#c79)"/><rect x="193" y="34" width="3.6" height="377" fill="url(#c80)"/><rect x="196" y="34" width="3.6" height="377" fill="url(#c81)"/><rect x="199" y="34" width="3.6" height="377" fill="url(#c82)"/><rect x="202" y="34" width="3.6" height="377" fill="url(#c83)"/><rect x="205" y="34" width="3.6" height="377" fill="url(#c84)"/><rect x="208" y="34" width="3.6" height="377" fill="url(#c85)"/><rect x="211" y="34" width="3.6" height="377" fill="url(#c86)"/><rect x="214" y="34" width="3.6" height="377" fill="url(#c87)"/><rect x="217" y="34" width="3.6" height="377" fill="url(#c88)"/><rect x="220" y="34" width="3.6" height="377" fill="url(#c89)"/><rect x="223" y="34" width="3.6" height="377" fill="url(#c90)"/><rect x="226" y="34" width="3.6" height="377" fill="url(#c91)"/><rect x="229" y="34" width="3.6" height="377" fill="url(#c92)"/><rect x="232" y="34" width="3.6" height="377" fill="url(#c93)"/><rect x="235" y="34" width="3.6" height="377" fill="url(#c94)"/><rect x="238" y="34" width="3.6" height="377" fill="url(#c95)"/><rect x="241" y="34" width="3.6" height="377" fill="url(#c96)"/><rect x="244" y="34" width="3.6" height="377" fill="url(#c97)"/><rect x="247" y="34" width="3.6" height="377" fill="url(#c98)"/><rect x="250" y="34" width="3.6" height="377" fill="url(#c99)"/><rect x="253" y="34" width="3.6" height="377" fill="url(#c100)"/><rect x="256" y="34" width="3.6" height="377" fill="url(#c101)"/><rect x="259" y="34" width="3.6" height="377" fill="url(#c102)"/><rect x="262" y="34" width="3.6" height="377" fill="url(#c103)"/></g>
<polygon points="55.4,59.4 59.1,59.9 64.5,60.7 70,61.5 75.2,61.9 80.6,62.4 86,64 91.1,67.4 96.2,71.9 102,77 108.9,82.8 116.4,89.1 124,95.5 131.8,102.1 139.6,108.6 146,113.9 150,117.1 152.5,119 155,121 158.1,123.8 161.1,126.7 163.7,129.3 165.6,131.2 167.1,132.8 168.5,134.5 169.9,136.4 171.3,138.3 172.5,140.3 173.6,142.3 174.6,144.4 175.5,146.5 176.3,148.7 177,151 178,153.5 179.4,156 181,158.8 182.5,162.5 183.7,167.6 184.8,173.7 186,180 187.4,186.3 188.8,192.9 190,200 190.9,207.6 191.7,215.7 192.5,225 193.3,235.7 194.1,247.6 195,260 196.2,272.2 197.6,285 199,300 200.4,319.4 201.8,341.1 203,360 203.9,374.2 204.7,385.7 205.5,395 206.5,402.3 207.6,407.4 208.4,410.8 207.5,409.8 205.8,407 203.1,400.7 200,393 196.9,385.5 194,378 191.5,371 189,364 186.4,356.9 183.8,349.7 181.1,342.3 178.5,335 175.9,327.8 173.4,321 171.1,315.2 169,310 167,305.1 165,300 162.6,293.9 160,287.5 157.5,281.7 155,275 152.5,265.9 150,256 147.6,246.8 145,237.5 141.8,227.7 138.5,218 135.3,208.6 132.5,200 130.3,193.1 128.5,187 126.8,180.9 125,175 122.8,169 120.5,163 118.5,157.8 116.3,151 113.5,139.2 110.8,127 108.7,118.8 107,112 105.4,105.1 104,99 102.7,94.4 101.6,90.6 100.7,86.5 99.8,83.4 99.3,82.7 98,82.2 94.3,80.1 89.6,77.4 85,74.8 80,72 74.2,68.7 68,65.4 61,62 55.4,59.4" fill="url(#s104)"/>
<polyline points="75.2,61.9 80.6,62.4 86,64 91.1,67.4 96.2,71.9 102,77 108.9,82.8 116.4,89.1 124,95.5 131.8,102.1 139.6,108.6 146,113.9 150,117.1 152.5,119 155,121 158.1,123.8 161.1,126.7 163.7,129.3 165.6,131.2 167.1,132.8 168.5,134.5 169.9,136.4 171.3,138.3 172.5,140.3 173.6,142.3 174.6,144.4 175.5,146.5 176.3,148.7 177,151 178,153.5 179.4,156 181,158.8 182.5,162.5 183.7,167.6 184.8,173.7" fill="none" stroke="#b00000" stroke-opacity="0.22" stroke-width="1"/>
<g clip-path="url(#cl2)"><rect x="209" y="75" width="2.6" height="332" fill="url(#c105)"/><rect x="211" y="75" width="2.6" height="332" fill="url(#c106)"/><rect x="213" y="75" width="2.6" height="332" fill="url(#c107)"/><rect x="215" y="75" width="2.6" height="332" fill="url(#c108)"/><rect x="217" y="75" width="2.6" height="332" fill="url(#c109)"/><rect x="219" y="75" width="2.6" height="332" fill="url(#c110)"/><rect x="221" y="75" width="2.6" height="332" fill="url(#c111)"/><rect x="223" y="75" width="2.6" height="332" fill="url(#c112)"/><rect x="225" y="75" width="2.6" height="332" fill="url(#c113)"/><rect x="227" y="75" width="2.6" height="332" fill="url(#c114)"/><rect x="229" y="75" width="2.6" height="332" fill="url(#c115)"/><rect x="231" y="75" width="2.6" height="332" fill="url(#c116)"/><rect x="233" y="75" width="2.6" height="332" fill="url(#c117)"/><rect x="235" y="75" width="2.6" height="332" fill="url(#c118)"/><rect x="237" y="75" width="2.6" height="332" fill="url(#c119)"/><rect x="239" y="75" width="2.6" height="332" fill="url(#c120)"/><rect x="241" y="75" width="2.6" height="332" fill="url(#c121)"/><rect x="243" y="75" width="2.6" height="332" fill="url(#c122)"/><rect x="245" y="75" width="2.6" height="332" fill="url(#c123)"/><rect x="247" y="75" width="2.6" height="332" fill="url(#c124)"/><rect x="249" y="75" width="2.6" height="332" fill="url(#c125)"/><rect x="251" y="75" width="2.6" height="332" fill="url(#c126)"/><rect x="253" y="75" width="2.6" height="332" fill="url(#c127)"/><rect x="255" y="75" width="2.6" height="332" fill="url(#c128)"/><rect x="257" y="75" width="2.6" height="332" fill="url(#c129)"/><rect x="259" y="75" width="2.6" height="332" fill="url(#c130)"/><rect x="261" y="75" width="2.6" height="332" fill="url(#c131)"/><rect x="263" y="75" width="2.6" height="332" fill="url(#c132)"/><rect x="265" y="75" width="2.6" height="332" fill="url(#c133)"/><rect x="267" y="75" width="2.6" height="332" fill="url(#c134)"/><rect x="269" y="75" width="2.6" height="332" fill="url(#c135)"/><rect x="271" y="75" width="2.6" height="332" fill="url(#c136)"/><rect x="273" y="75" width="2.6" height="332" fill="url(#c137)"/><rect x="275" y="75" width="2.6" height="332" fill="url(#c138)"/><rect x="277" y="75" width="2.6" height="332" fill="url(#c139)"/><rect x="279" y="75" width="2.6" height="332" fill="url(#c140)"/><rect x="281" y="75" width="2.6" height="332" fill="url(#c141)"/><rect x="283" y="75" width="2.6" height="332" fill="url(#c142)"/><rect x="285" y="75" width="2.6" height="332" fill="url(#c143)"/><rect x="287" y="75" width="2.6" height="332" fill="url(#c144)"/><rect x="289" y="75" width="2.6" height="332" fill="url(#c145)"/><rect x="291" y="75" width="2.6" height="332" fill="url(#c146)"/><rect x="293" y="75" width="2.6" height="332" fill="url(#c147)"/><rect x="295" y="75" width="2.6" height="332" fill="url(#c148)"/><rect x="297" y="75" width="2.6" height="332" fill="url(#c149)"/><rect x="299" y="75" width="2.6" height="332" fill="url(#c150)"/><rect x="301" y="75" width="2.6" height="332" fill="url(#c151)"/><rect x="303" y="75" width="2.6" height="332" fill="url(#c152)"/><rect x="305" y="75" width="2.6" height="332" fill="url(#c153)"/><rect x="307" y="75" width="2.6" height="332" fill="url(#c154)"/><rect x="309" y="75" width="2.6" height="332" fill="url(#c155)"/><rect x="311" y="75" width="2.6" height="332" fill="url(#c156)"/><rect x="313" y="75" width="2.6" height="332" fill="url(#c157)"/><rect x="315" y="75" width="2.6" height="332" fill="url(#c158)"/><rect x="317" y="75" width="2.6" height="332" fill="url(#c159)"/><rect x="319" y="75" width="2.6" height="332" fill="url(#c160)"/><rect x="321" y="75" width="2.6" height="332" fill="url(#c161)"/><rect x="323" y="75" width="2.6" height="332" fill="url(#c162)"/><rect x="325" y="75" width="2.6" height="332" fill="url(#c163)"/><rect x="327" y="75" width="2.6" height="332" fill="url(#c164)"/><rect x="329" y="75" width="2.6" height="332" fill="url(#c165)"/><rect x="331" y="75" width="2.6" height="332" fill="url(#c166)"/><rect x="333" y="75" width="2.6" height="332" fill="url(#c167)"/><rect x="335" y="75" width="2.6" height="332" fill="url(#c168)"/></g>
<line x1="52.3" y1="21.4" x2="71.8" y2="362" stroke="#222" stroke-width="1.5"/>
<line x1="69.3" y1="318.4" x2="76.3" y2="317.9" stroke="#222" stroke-width="1.8"/>
<line x1="66.8" y1="274.3" x2="73.8" y2="273.8" stroke="#222" stroke-width="1.8"/>
<line x1="64.2" y1="229.6" x2="71.2" y2="229.1" stroke="#222" stroke-width="1.8"/>
<line x1="61.7" y1="184.4" x2="68.7" y2="183.9" stroke="#222" stroke-width="1.8"/>
<line x1="59.1" y1="138.7" x2="66.1" y2="138.2" stroke="#222" stroke-width="1.8"/>
<line x1="56.5" y1="92.4" x2="63.5" y2="91.9" stroke="#222" stroke-width="1.8"/>
<line x1="53.8" y1="45.6" x2="60.8" y2="45.1" stroke="#222" stroke-width="1.8"/>
<line x1="176.7" y1="474.5" x2="542.5" y2="412.5" stroke="#111" stroke-width="1.6"/>
<line x1="71.9" y1="361.9" x2="176.7" y2="474.5" stroke="#111" stroke-width="1.6"/>
<line x1="203" y1="470" x2="198.8" y2="465.8" stroke="#111" stroke-width="1.3"/>
<line x1="254.7" y1="461.3" x2="250.3" y2="457.2" stroke="#111" stroke-width="1.3"/>
<line x1="305.3" y1="452.7" x2="300.7" y2="448.8" stroke="#111" stroke-width="1.3"/>
<line x1="354.8" y1="444.3" x2="350" y2="440.6" stroke="#111" stroke-width="1.3"/>
<line x1="403.2" y1="436.1" x2="398.3" y2="432.6" stroke="#111" stroke-width="1.3"/>
<line x1="450.6" y1="428.1" x2="445.6" y2="424.8" stroke="#111" stroke-width="1.3"/>
<line x1="497" y1="420.2" x2="491.9" y2="417" stroke="#111" stroke-width="1.3"/>
<line x1="82.8" y1="373.6" x2="89.2" y2="372.7" stroke="#111" stroke-width="1.3"/>
<line x1="94.2" y1="385.9" x2="100.7" y2="384.9" stroke="#111" stroke-width="1.3"/>
<line x1="106.2" y1="398.8" x2="112.7" y2="397.8" stroke="#111" stroke-width="1.3"/>
<line x1="118.9" y1="412.4" x2="125.3" y2="411.4" stroke="#111" stroke-width="1.3"/>
<line x1="132.2" y1="426.7" x2="138.6" y2="425.6" stroke="#111" stroke-width="1.3"/>
<line x1="146.2" y1="441.7" x2="152.6" y2="440.7" stroke="#111" stroke-width="1.3"/>
<line x1="161" y1="457.7" x2="167.4" y2="456.6" stroke="#111" stroke-width="1.3"/>
<rect x="571.4" y="29" width="33" height="340" fill="url(#cb169)" stroke="#222" stroke-width="1"/>
<line x1="604.4" y1="29" x2="612" y2="29" stroke="#222" stroke-width="1"/>
<line x1="604.4" y1="369" x2="612" y2="369" stroke="#222" stroke-width="1"/>
<text transform="translate(26.01 51.75) scale(1.18 1)" font-size="14.65" fill="#1a1a1a">80</text>
<text transform="translate(28.31 98.55) scale(1.09 1)" font-size="14.51" fill="#1a1a1a">70</text>
<text transform="translate(31.58 145.05) scale(1.24 1)" font-size="14.79" fill="#1a1a1a">60</text>
<text transform="translate(35.09 190.65) scale(1.19 1)" font-size="14.93" fill="#1a1a1a">50</text>
<text transform="translate(35.96 236.25) scale(1.13 1)" font-size="15.21" fill="#1a1a1a">40</text>
<text transform="translate(37.18 280.25) scale(1.18 1)" font-size="15.21" fill="#1a1a1a">30</text>
<text transform="translate(39.42 324.55) scale(1.17 1)" font-size="15.07" fill="#1a1a1a">20</text>
<text transform="translate(46.84 367.25) scale(1 1)" font-size="14.51" fill="#1a1a1a">10</text>
<text transform="translate(66.91 393.75) scale(1.22 1)" font-size="14.65" fill="#1a1a1a">20</text>
<text transform="translate(91.36 421.85) scale(1.15 1)" font-size="14.65" fill="#1a1a1a">40</text>
<text transform="translate(117.48 450.35) scale(1.19 1)" font-size="15.35" fill="#1a1a1a">60</text>
<text transform="translate(148.89 484.85) scale(1.19 1)" font-size="14.79" fill="#1a1a1a">80</text>
<text transform="translate(620.4 34.75) scale(0.97 1)" font-size="15.35" fill="#1a1a1a">81.60</text>
<text transform="translate(619.35 373.85) scale(0.94 1)" font-size="15.35" fill="#1a1a1a">17.80</text>
<text transform="translate(77.98 352.4) scale(1 1)" font-size="17.25" fill="#0000f5">Δ</text>
<text transform="translate(265 476.3) rotate(-10.5) translate(-13.98 5.14) scale(1.12 1)" font-size="14.9" fill="#1a1a1a">600</text>
<text transform="translate(360.8 459.5) rotate(-10.5) translate(-13.98 5.14) scale(1.12 1)" font-size="14.9" fill="#1a1a1a">620</text>
<text transform="translate(460 442) rotate(-10.5) translate(-13.98 5.14) scale(1.12 1)" font-size="14.9" fill="#1a1a1a">640</text>
<text transform="translate(548.5 427) rotate(-10.5) translate(-13.98 5.14) scale(1.12 1)" font-size="14.9" fill="#1a1a1a">660</text>
<text transform="translate(375.4 484.9) rotate(-8.6) translate(-69.48 4.16) scale(1.16 1)" font-size="16" fill="#1a1a1a">Wavelength (nm)</text>
<text transform="translate(78.6 438.2) rotate(49.3) translate(-69.69 4.24) scale(1.1 1)" font-size="16.3" fill="#1a1a1a">Displacement (<tspan font-style="italic">D</tspan>)</text>
<text transform="translate(11.45 185) rotate(-93.3) translate(-69.31 4.16) scale(1.13 1)" font-size="16" fill="#1a1a1a">Transmission (%)</text>
<text transform="translate(675.16 198.9) rotate(90) translate(-68 4.16) scale(1.1 1)" font-size="16" fill="#1a1a1a">Transmission (%)</text>
</svg></body></html>
